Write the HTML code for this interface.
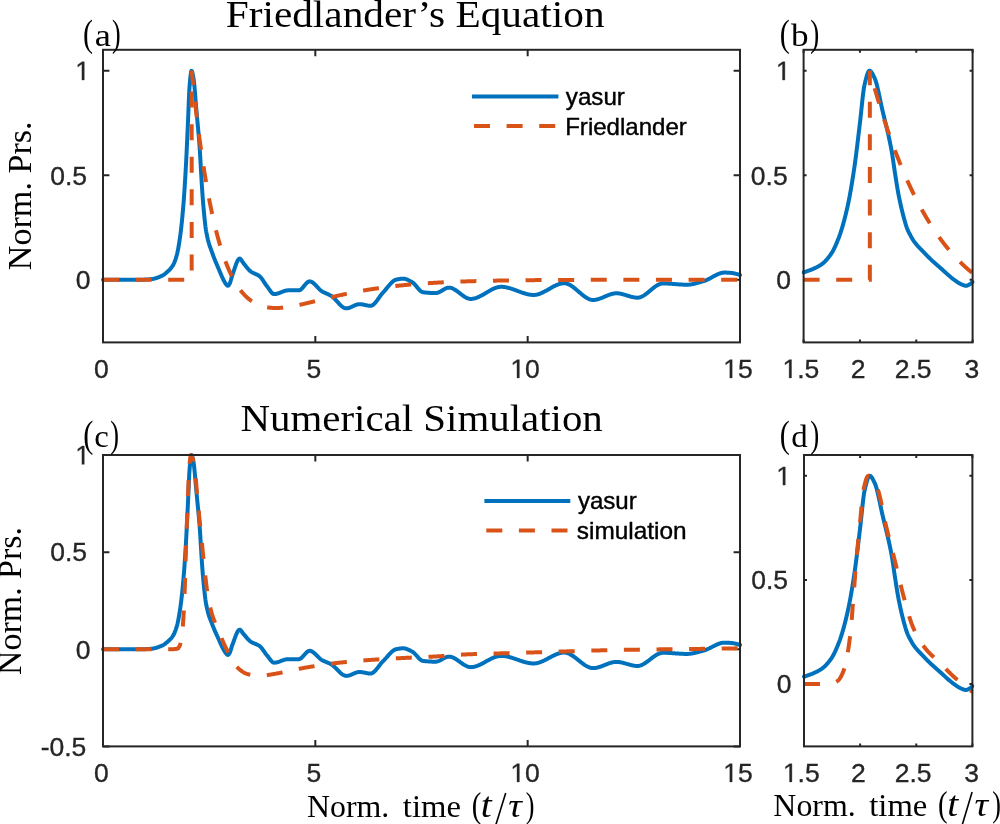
<!DOCTYPE html>
<html><head><meta charset="utf-8"><style>
html,body{margin:0;padding:0;background:#fff;}
body{width:1000px;height:824px;overflow:hidden;}
svg{display:block;will-change:transform;}
.tk{font-family:"Liberation Sans",sans-serif;font-size:26.5px;fill:#262626;stroke:#262626;stroke-width:0.35px;}
.tk1{fill:#262626;stroke:#262626;stroke-width:27px;}
.lg{font-family:"Liberation Sans",sans-serif;font-size:24px;fill:#000;}
.sf{font-family:"Liberation Serif",serif;fill:#000;}
</style></head><body>
<svg width="1000" height="824" viewBox="0 0 1000 824">
<defs><clipPath id="clipa"><rect x="101.00" y="47.80" width="641.00" height="296.60"/></clipPath>
<clipPath id="clipb"><rect x="801.60" y="47.80" width="173.00" height="296.60"/></clipPath>
<clipPath id="clipc"><rect x="101.00" y="453.00" width="641.00" height="295.40"/></clipPath>
<clipPath id="clipd"><rect x="802.00" y="453.00" width="172.40" height="295.40"/></clipPath></defs>
<rect width="1000" height="824" fill="#fff"/>
<path d="M103.00 279.70h6.40M740.00 279.70h-6.40M103.00 175.20h6.40M740.00 175.20h-6.40M103.00 70.70h6.40M740.00 70.70h-6.40M103.00 342.40v-6.40M103.00 49.80v6.40M315.33 342.40v-6.40M315.33 49.80v6.40M527.67 342.40v-6.40M527.67 49.80v6.40M740.00 342.40v-6.40M740.00 49.80v6.40" stroke="#262626" stroke-width="2" fill="none"/>
<g clip-path="url(#clipa)">
<path d="M103.00 279.70 L103.42 279.70 L103.85 279.70 L104.27 279.70 L104.70 279.70 L105.12 279.70 L105.55 279.70 L105.97 279.70 L106.40 279.70 L106.82 279.70 L107.25 279.70 L107.67 279.70 L108.10 279.70 L108.52 279.70 L108.95 279.70 L109.37 279.70 L109.80 279.70 L110.22 279.70 L110.65 279.70 L111.07 279.70 L111.50 279.70 L111.92 279.70 L112.35 279.70 L112.77 279.70 L113.20 279.70 L113.62 279.70 L114.05 279.70 L114.47 279.70 L114.90 279.70 L115.32 279.70 L115.75 279.70 L116.17 279.70 L116.60 279.70 L117.02 279.70 L117.45 279.70 L117.87 279.70 L118.30 279.70 L118.72 279.70 L119.15 279.70 L119.57 279.70 L120.00 279.70 L120.42 279.70 L120.85 279.70 L121.27 279.70 L121.70 279.70 L122.12 279.70 L122.55 279.70 L122.97 279.70 L123.40 279.70 L123.82 279.70 L124.25 279.70 L124.67 279.70 L125.10 279.70 L125.52 279.70 L125.95 279.70 L126.37 279.70 L126.80 279.70 L127.22 279.70 L127.65 279.70 L128.07 279.70 L128.50 279.70 L128.92 279.70 L129.35 279.70 L129.77 279.70 L130.20 279.70 L130.62 279.70 L131.05 279.70 L131.47 279.70 L131.90 279.70 L132.32 279.70 L132.75 279.70 L133.17 279.70 L133.60 279.70 L134.02 279.70 L134.45 279.70 L134.87 279.70 L135.30 279.70 L135.72 279.70 L136.15 279.70 L136.57 279.70 L137.00 279.70 L137.42 279.70 L137.85 279.70 L138.27 279.70 L138.70 279.70 L139.12 279.70 L139.55 279.70 L139.97 279.70 L140.40 279.70 L140.82 279.70 L141.25 279.70 L141.67 279.70 L142.10 279.69 L142.52 279.69 L142.95 279.68 L143.37 279.67 L143.80 279.65 L144.22 279.64 L144.65 279.62 L145.07 279.60 L145.49 279.58 L145.92 279.56 L146.34 279.53 L146.77 279.50 L147.19 279.48 L147.62 279.45 L148.04 279.41 L148.47 279.38 L148.89 279.35 L149.32 279.31 L149.74 279.27 L150.17 279.23 L150.59 279.19 L151.02 279.15 L151.44 279.11 L151.87 279.07 L152.29 279.02 L152.72 278.96 L153.14 278.89 L153.57 278.81 L153.99 278.72 L154.42 278.63 L154.84 278.52 L155.27 278.41 L155.69 278.28 L156.12 278.15 L156.54 278.02 L156.97 277.87 L157.39 277.72 L157.82 277.56 L158.24 277.40 L158.67 277.23 L159.09 277.05 L159.52 276.87 L159.94 276.69 L160.37 276.50 L160.79 276.31 L161.22 276.11 L161.64 275.91 L162.07 275.71 L162.49 275.50 L162.92 275.28 L163.34 275.02 L163.77 274.75 L164.19 274.45 L164.62 274.13 L165.04 273.80 L165.47 273.45 L165.89 273.09 L166.32 272.72 L166.74 272.35 L167.17 271.97 L167.59 271.59 L168.02 271.20 L168.44 270.81 L168.87 270.40 L169.29 269.98 L169.72 269.54 L170.14 269.07 L170.57 268.59 L170.99 268.07 L171.42 267.53 L171.84 266.95 L172.27 266.34 L172.69 265.69 L173.12 264.99 L173.54 264.21 L173.97 263.33 L174.39 262.35 L174.82 261.26 L175.24 260.08 L175.67 258.80 L176.09 257.44 L176.52 255.98 L176.94 254.44 L177.37 252.70 L177.79 250.74 L178.22 248.55 L178.64 246.16 L179.07 243.59 L179.49 240.86 L179.92 237.98 L180.34 234.94 L180.77 231.62 L181.19 228.00 L181.62 224.11 L182.04 219.95 L182.47 215.52 L182.89 210.84 L183.32 205.91 L183.74 200.54 L184.17 194.65 L184.59 188.28 L185.02 181.49 L185.44 174.35 L185.87 166.89 L186.29 158.74 L186.72 149.85 L187.14 140.52 L187.57 131.05 L187.99 121.70 L188.41 111.36 L188.84 100.56 L189.26 91.09 L189.69 84.67 L190.11 79.90 L190.54 75.69 L190.96 72.51 L191.39 70.84 L191.81 70.92 L192.24 72.02 L192.66 73.81 L193.09 76.01 L193.51 78.36 L193.94 81.44 L194.36 85.49 L194.79 90.25 L195.21 95.45 L195.64 100.84 L196.06 106.14 L196.49 111.11 L196.91 115.80 L197.34 120.39 L197.76 124.98 L198.19 129.66 L198.61 134.52 L199.04 139.65 L199.46 145.13 L199.89 151.07 L200.31 158.06 L200.74 165.79 L201.16 173.43 L201.59 180.58 L202.01 187.59 L202.44 193.96 L202.86 199.59 L203.29 204.83 L203.71 209.70 L204.14 214.25 L204.56 218.54 L204.99 222.62 L205.41 226.28 L205.84 229.30 L206.26 231.83 L206.69 234.06 L207.11 236.14 L207.54 238.13 L207.96 239.96 L208.39 241.61 L208.81 243.09 L209.24 244.47 L209.66 245.77 L210.09 247.01 L210.51 248.20 L210.94 249.36 L211.36 250.51 L211.79 251.67 L212.21 252.85 L212.64 254.03 L213.06 255.20 L213.49 256.34 L213.91 257.47 L214.34 258.56 L214.76 259.63 L215.19 260.67 L215.61 261.69 L216.04 262.69 L216.46 263.69 L216.89 264.68 L217.31 265.67 L217.74 266.67 L218.16 267.68 L218.59 268.71 L219.01 269.76 L219.44 270.80 L219.86 271.81 L220.29 272.82 L220.71 273.84 L221.14 274.84 L221.56 275.82 L221.99 276.78 L222.41 277.71 L222.84 278.60 L223.26 279.45 L223.69 280.26 L224.11 281.07 L224.54 281.85 L224.96 282.60 L225.39 283.29 L225.81 283.89 L226.24 284.39 L226.66 284.88 L227.09 285.33 L227.51 285.65 L227.94 285.76 L228.36 285.55 L228.79 285.07 L229.21 284.43 L229.64 283.74 L230.06 282.78 L230.48 281.51 L230.91 280.04 L231.33 278.47 L231.76 276.91 L232.18 275.47 L232.61 274.24 L233.03 273.07 L233.46 271.84 L233.88 270.59 L234.31 269.32 L234.73 268.05 L235.16 266.80 L235.58 265.58 L236.01 264.41 L236.43 263.30 L236.86 262.27 L237.28 261.34 L237.71 260.51 L238.13 259.82 L238.56 259.26 L238.98 258.86 L239.41 258.64 L239.83 258.60 L240.26 258.80 L240.68 259.18 L241.11 259.72 L241.53 260.35 L241.96 261.03 L242.38 261.71 L242.81 262.34 L243.23 262.88 L243.66 263.40 L244.08 263.93 L244.51 264.46 L244.93 265.01 L245.36 265.55 L245.78 266.10 L246.21 266.64 L246.63 267.18 L247.06 267.71 L247.48 268.23 L247.91 268.73 L248.33 269.21 L248.76 269.67 L249.18 270.11 L249.61 270.52 L250.03 270.91 L250.46 271.25 L250.88 271.57 L251.31 271.86 L251.73 272.13 L252.16 272.38 L252.58 272.61 L253.01 272.83 L253.43 273.03 L253.86 273.23 L254.28 273.42 L254.71 273.61 L255.13 273.80 L255.56 273.98 L255.98 274.17 L256.41 274.37 L256.83 274.57 L257.26 274.79 L257.68 275.02 L258.11 275.26 L258.53 275.52 L258.96 275.80 L259.38 276.11 L259.81 276.44 L260.23 276.82 L260.66 277.26 L261.08 277.75 L261.51 278.29 L261.93 278.86 L262.36 279.46 L262.78 280.08 L263.21 280.73 L263.63 281.38 L264.06 282.04 L264.48 282.70 L264.91 283.36 L265.33 284.00 L265.76 284.62 L266.18 285.22 L266.61 285.78 L267.03 286.31 L267.46 286.86 L267.88 287.44 L268.31 288.04 L268.73 288.66 L269.16 289.29 L269.58 289.91 L270.01 290.52 L270.43 291.11 L270.86 291.67 L271.28 292.20 L271.71 292.68 L272.13 293.11 L272.56 293.47 L272.98 293.76 L273.40 293.97 L273.83 294.09 L274.25 294.12 L274.68 294.10 L275.10 294.07 L275.53 294.02 L275.95 293.95 L276.38 293.86 L276.80 293.76 L277.23 293.65 L277.65 293.53 L278.08 293.40 L278.50 293.25 L278.93 293.10 L279.35 292.95 L279.78 292.78 L280.20 292.62 L280.63 292.45 L281.05 292.28 L281.48 292.11 L281.90 291.94 L282.33 291.77 L282.75 291.60 L283.18 291.45 L283.60 291.29 L284.03 291.15 L284.45 291.01 L284.88 290.88 L285.30 290.76 L285.73 290.66 L286.15 290.57 L286.58 290.49 L287.00 290.43 L287.43 290.39 L287.85 290.36 L288.28 290.36 L288.70 290.36 L289.13 290.36 L289.55 290.36 L289.98 290.36 L290.40 290.36 L290.83 290.36 L291.25 290.36 L291.68 290.36 L292.10 290.36 L292.53 290.36 L292.95 290.36 L293.38 290.36 L293.80 290.36 L294.23 290.36 L294.65 290.36 L295.08 290.36 L295.50 290.36 L295.93 290.36 L296.35 290.36 L296.78 290.36 L297.20 290.36 L297.63 290.36 L298.05 290.36 L298.48 290.36 L298.90 290.36 L299.33 290.29 L299.75 290.15 L300.18 289.94 L300.60 289.68 L301.03 289.35 L301.45 288.98 L301.88 288.57 L302.30 288.12 L302.73 287.64 L303.15 287.14 L303.58 286.62 L304.00 286.10 L304.43 285.57 L304.85 285.04 L305.28 284.53 L305.70 284.03 L306.13 283.55 L306.55 283.11 L306.98 282.70 L307.40 282.33 L307.83 282.02 L308.25 281.76 L308.68 281.56 L309.10 281.43 L309.53 281.37 L309.95 281.39 L310.38 281.46 L310.80 281.57 L311.23 281.72 L311.65 281.92 L312.08 282.16 L312.50 282.43 L312.93 282.73 L313.35 283.06 L313.78 283.41 L314.20 283.79 L314.63 284.19 L315.05 284.61 L315.47 285.04 L315.90 285.48 L316.32 285.93 L316.75 286.39 L317.17 286.85 L317.60 287.31 L318.02 287.76 L318.45 288.21 L318.87 288.65 L319.30 289.08 L319.72 289.49 L320.15 289.89 L320.57 290.26 L321.00 290.61 L321.42 290.94 L321.85 291.23 L322.27 291.49 L322.70 291.74 L323.12 291.97 L323.55 292.19 L323.97 292.41 L324.40 292.61 L324.82 292.81 L325.25 293.01 L325.67 293.20 L326.10 293.38 L326.52 293.57 L326.95 293.76 L327.37 293.94 L327.80 294.13 L328.22 294.33 L328.65 294.52 L329.07 294.73 L329.50 294.94 L329.92 295.16 L330.35 295.39 L330.77 295.63 L331.20 295.89 L331.62 296.17 L332.05 296.47 L332.47 296.81 L332.90 297.16 L333.32 297.54 L333.75 297.93 L334.17 298.34 L334.60 298.77 L335.02 299.21 L335.45 299.66 L335.87 300.11 L336.30 300.58 L336.72 301.05 L337.15 301.52 L337.57 301.99 L338.00 302.46 L338.42 302.92 L338.85 303.38 L339.27 303.83 L339.70 304.28 L340.12 304.71 L340.55 305.12 L340.97 305.52 L341.40 305.90 L341.82 306.27 L342.25 306.61 L342.67 306.92 L343.10 307.21 L343.52 307.47 L343.95 307.70 L344.37 307.90 L344.80 308.06 L345.22 308.19 L345.65 308.28 L346.07 308.32 L346.50 308.33 L346.92 308.31 L347.35 308.26 L347.77 308.19 L348.20 308.11 L348.62 308.00 L349.05 307.87 L349.47 307.73 L349.90 307.58 L350.32 307.42 L350.75 307.24 L351.17 307.05 L351.60 306.86 L352.02 306.67 L352.45 306.47 L352.87 306.26 L353.30 306.06 L353.72 305.86 L354.15 305.66 L354.57 305.47 L355.00 305.29 L355.42 305.11 L355.85 304.94 L356.27 304.78 L356.70 304.64 L357.12 304.51 L357.55 304.40 L357.97 304.31 L358.39 304.24 L358.82 304.19 L359.24 304.16 L359.67 304.15 L360.09 304.17 L360.52 304.19 L360.94 304.23 L361.37 304.28 L361.79 304.34 L362.22 304.41 L362.64 304.48 L363.07 304.56 L363.49 304.65 L363.92 304.74 L364.34 304.84 L364.77 304.93 L365.19 305.03 L365.62 305.12 L366.04 305.22 L366.47 305.31 L366.89 305.40 L367.32 305.48 L367.74 305.56 L368.17 305.63 L368.59 305.69 L369.02 305.74 L369.44 305.78 L369.87 305.81 L370.29 305.82 L370.72 305.82 L371.14 305.76 L371.57 305.65 L371.99 305.49 L372.42 305.27 L372.84 305.00 L373.27 304.69 L373.69 304.34 L374.12 303.95 L374.54 303.53 L374.97 303.07 L375.39 302.58 L375.82 302.07 L376.24 301.54 L376.67 300.99 L377.09 300.42 L377.52 299.83 L377.94 299.24 L378.37 298.64 L378.79 298.04 L379.22 297.43 L379.64 296.83 L380.07 296.24 L380.49 295.65 L380.92 295.07 L381.34 294.51 L381.77 293.97 L382.19 293.45 L382.62 292.96 L383.04 292.49 L383.47 292.05 L383.89 291.59 L384.32 291.13 L384.74 290.64 L385.17 290.15 L385.59 289.65 L386.02 289.13 L386.44 288.62 L386.87 288.09 L387.29 287.57 L387.72 287.05 L388.14 286.52 L388.57 286.01 L388.99 285.49 L389.42 284.99 L389.84 284.49 L390.27 284.01 L390.69 283.55 L391.12 283.09 L391.54 282.66 L391.97 282.25 L392.39 281.85 L392.82 281.49 L393.24 281.15 L393.67 280.83 L394.09 280.55 L394.52 280.30 L394.94 280.08 L395.37 279.90 L395.79 279.76 L396.22 279.65 L396.64 279.56 L397.07 279.46 L397.49 279.37 L397.92 279.28 L398.34 279.19 L398.77 279.11 L399.19 279.04 L399.62 278.97 L400.04 278.90 L400.46 278.84 L400.89 278.79 L401.31 278.75 L401.74 278.71 L402.16 278.69 L402.59 278.67 L403.01 278.66 L403.44 278.66 L403.86 278.68 L404.29 278.73 L404.71 278.80 L405.14 278.89 L405.56 279.01 L405.99 279.14 L406.41 279.28 L406.84 279.45 L407.26 279.62 L407.69 279.81 L408.11 280.01 L408.54 280.22 L408.96 280.44 L409.39 280.67 L409.81 280.90 L410.24 281.14 L410.66 281.37 L411.09 281.61 L411.51 281.85 L411.94 282.09 L412.36 282.33 L412.79 282.61 L413.21 282.94 L413.64 283.30 L414.06 283.71 L414.49 284.14 L414.91 284.60 L415.34 285.09 L415.76 285.58 L416.19 286.10 L416.61 286.62 L417.04 287.14 L417.46 287.66 L417.89 288.18 L418.31 288.69 L418.74 289.18 L419.16 289.65 L419.59 290.09 L420.01 290.51 L420.44 290.90 L420.86 291.24 L421.29 291.55 L421.71 291.80 L422.14 292.01 L422.56 292.15 L422.99 292.24 L423.41 292.29 L423.84 292.35 L424.26 292.40 L424.69 292.44 L425.11 292.49 L425.54 292.54 L425.96 292.58 L426.39 292.62 L426.81 292.66 L427.24 292.70 L427.66 292.74 L428.09 292.77 L428.51 292.80 L428.94 292.84 L429.36 292.86 L429.79 292.89 L430.21 292.92 L430.64 292.94 L431.06 292.96 L431.49 292.98 L431.91 293.00 L432.34 293.02 L432.76 293.03 L433.19 293.04 L433.61 293.06 L434.04 293.06 L434.46 293.07 L434.89 293.07 L435.31 293.08 L435.74 293.07 L436.16 293.04 L436.59 292.98 L437.01 292.89 L437.44 292.78 L437.86 292.64 L438.29 292.48 L438.71 292.30 L439.14 292.11 L439.56 291.90 L439.99 291.68 L440.41 291.44 L440.84 291.20 L441.26 290.95 L441.69 290.70 L442.11 290.44 L442.54 290.18 L442.96 289.93 L443.38 289.68 L443.81 289.43 L444.23 289.19 L444.66 288.96 L445.08 288.74 L445.51 288.54 L445.93 288.35 L446.36 288.18 L446.78 288.03 L447.21 287.90 L447.63 287.79 L448.06 287.71 L448.48 287.66 L448.91 287.64 L449.33 287.65 L449.76 287.68 L450.18 287.74 L450.61 287.82 L451.03 287.93 L451.46 288.05 L451.88 288.19 L452.31 288.35 L452.73 288.53 L453.16 288.73 L453.58 288.94 L454.01 289.17 L454.43 289.41 L454.86 289.67 L455.28 289.93 L455.71 290.21 L456.13 290.50 L456.56 290.79 L456.98 291.10 L457.41 291.41 L457.83 291.72 L458.26 292.04 L458.68 292.37 L459.11 292.69 L459.53 293.02 L459.96 293.35 L460.38 293.68 L460.81 294.01 L461.23 294.34 L461.66 294.66 L462.08 294.98 L462.51 295.30 L462.93 295.60 L463.36 295.90 L463.78 296.20 L464.21 296.48 L464.63 296.75 L465.06 297.01 L465.48 297.26 L465.91 297.50 L466.33 297.72 L466.76 297.92 L467.18 298.11 L467.61 298.29 L468.03 298.44 L468.46 298.58 L468.88 298.69 L469.31 298.78 L469.73 298.85 L470.16 298.90 L470.58 298.93 L471.01 298.93 L471.43 298.91 L471.86 298.88 L472.28 298.84 L472.71 298.79 L473.13 298.72 L473.56 298.64 L473.98 298.55 L474.41 298.45 L474.83 298.33 L475.26 298.21 L475.68 298.08 L476.11 297.94 L476.53 297.78 L476.96 297.62 L477.38 297.45 L477.81 297.28 L478.23 297.09 L478.66 296.90 L479.08 296.70 L479.51 296.50 L479.93 296.29 L480.36 296.07 L480.78 295.85 L481.21 295.62 L481.63 295.39 L482.06 295.15 L482.48 294.91 L482.91 294.67 L483.33 294.43 L483.76 294.18 L484.18 293.93 L484.61 293.68 L485.03 293.43 L485.45 293.17 L485.88 292.92 L486.30 292.66 L486.73 292.41 L487.15 292.16 L487.58 291.90 L488.00 291.65 L488.43 291.41 L488.85 291.16 L489.28 290.92 L489.70 290.68 L490.13 290.44 L490.55 290.21 L490.98 289.98 L491.40 289.75 L491.83 289.53 L492.25 289.32 L492.68 289.11 L493.10 288.91 L493.53 288.72 L493.95 288.53 L494.38 288.35 L494.80 288.18 L495.23 288.01 L495.65 287.86 L496.08 287.71 L496.50 287.57 L496.93 287.45 L497.35 287.33 L497.78 287.22 L498.20 287.13 L498.63 287.05 L499.05 286.97 L499.48 286.91 L499.90 286.87 L500.33 286.83 L500.75 286.81 L501.18 286.81 L501.60 286.81 L502.03 286.82 L502.45 286.84 L502.88 286.87 L503.30 286.91 L503.73 286.95 L504.15 287.00 L504.58 287.06 L505.00 287.12 L505.43 287.19 L505.85 287.27 L506.28 287.35 L506.70 287.44 L507.13 287.53 L507.55 287.63 L507.98 287.73 L508.40 287.84 L508.83 287.95 L509.25 288.07 L509.68 288.19 L510.10 288.32 L510.53 288.45 L510.95 288.58 L511.38 288.72 L511.80 288.86 L512.23 289.00 L512.65 289.15 L513.08 289.29 L513.50 289.44 L513.93 289.60 L514.35 289.75 L514.78 289.91 L515.20 290.06 L515.63 290.22 L516.05 290.38 L516.48 290.54 L516.90 290.70 L517.33 290.86 L517.75 291.02 L518.18 291.18 L518.60 291.34 L519.03 291.50 L519.45 291.65 L519.88 291.81 L520.30 291.97 L520.73 292.12 L521.15 292.27 L521.58 292.42 L522.00 292.57 L522.43 292.72 L522.85 292.86 L523.28 293.00 L523.70 293.14 L524.13 293.27 L524.55 293.40 L524.98 293.53 L525.40 293.65 L525.83 293.77 L526.25 293.89 L526.68 294.00 L527.10 294.10 L527.53 294.20 L527.95 294.30 L528.37 294.39 L528.80 294.47 L529.22 294.55 L529.65 294.62 L530.07 294.69 L530.50 294.75 L530.92 294.80 L531.35 294.84 L531.77 294.88 L532.20 294.91 L532.62 294.93 L533.05 294.95 L533.47 294.96 L533.90 294.95 L534.32 294.94 L534.75 294.91 L535.17 294.87 L535.60 294.82 L536.02 294.75 L536.45 294.67 L536.87 294.59 L537.30 294.49 L537.72 294.38 L538.15 294.26 L538.57 294.13 L539.00 294.00 L539.42 293.85 L539.85 293.69 L540.27 293.53 L540.70 293.36 L541.12 293.19 L541.55 293.00 L541.97 292.81 L542.40 292.61 L542.82 292.41 L543.25 292.20 L543.67 291.99 L544.10 291.77 L544.52 291.55 L544.95 291.32 L545.37 291.09 L545.80 290.86 L546.22 290.63 L546.65 290.39 L547.07 290.15 L547.50 289.91 L547.92 289.67 L548.35 289.42 L548.77 289.18 L549.20 288.93 L549.62 288.69 L550.05 288.45 L550.47 288.21 L550.90 287.96 L551.32 287.73 L551.75 287.49 L552.17 287.25 L552.60 287.02 L553.02 286.80 L553.45 286.57 L553.87 286.35 L554.30 286.13 L554.72 285.92 L555.15 285.72 L555.57 285.52 L556.00 285.32 L556.42 285.13 L556.85 284.95 L557.27 284.78 L557.70 284.61 L558.12 284.45 L558.55 284.30 L558.97 284.16 L559.40 284.03 L559.82 283.90 L560.25 283.79 L560.67 283.68 L561.10 283.59 L561.52 283.50 L561.95 283.43 L562.37 283.37 L562.80 283.32 L563.22 283.29 L563.65 283.26 L564.07 283.25 L564.50 283.26 L564.92 283.28 L565.35 283.33 L565.77 283.40 L566.20 283.48 L566.62 283.59 L567.05 283.71 L567.47 283.85 L567.90 284.01 L568.32 284.18 L568.75 284.37 L569.17 284.57 L569.60 284.79 L570.02 285.02 L570.44 285.27 L570.87 285.52 L571.29 285.79 L571.72 286.07 L572.14 286.36 L572.57 286.66 L572.99 286.97 L573.42 287.29 L573.84 287.61 L574.27 287.94 L574.69 288.28 L575.12 288.63 L575.54 288.98 L575.97 289.33 L576.39 289.69 L576.82 290.05 L577.24 290.42 L577.67 290.78 L578.09 291.15 L578.52 291.52 L578.94 291.89 L579.37 292.26 L579.79 292.62 L580.22 292.99 L580.64 293.35 L581.07 293.71 L581.49 294.07 L581.92 294.42 L582.34 294.77 L582.77 295.11 L583.19 295.45 L583.62 295.78 L584.04 296.10 L584.47 296.41 L584.89 296.71 L585.32 297.01 L585.74 297.29 L586.17 297.57 L586.59 297.83 L587.02 298.08 L587.44 298.32 L587.87 298.54 L588.29 298.75 L588.72 298.95 L589.14 299.13 L589.57 299.30 L589.99 299.45 L590.42 299.58 L590.84 299.69 L591.27 299.79 L591.69 299.86 L592.12 299.92 L592.54 299.96 L592.97 299.97 L593.39 299.97 L593.82 299.95 L594.24 299.92 L594.67 299.88 L595.09 299.83 L595.52 299.77 L595.94 299.69 L596.37 299.61 L596.79 299.52 L597.22 299.41 L597.64 299.30 L598.07 299.18 L598.49 299.06 L598.92 298.92 L599.34 298.78 L599.77 298.64 L600.19 298.49 L600.62 298.33 L601.04 298.17 L601.47 298.00 L601.89 297.83 L602.32 297.66 L602.74 297.48 L603.17 297.30 L603.59 297.12 L604.02 296.94 L604.44 296.76 L604.87 296.58 L605.29 296.39 L605.72 296.21 L606.14 296.03 L606.57 295.85 L606.99 295.68 L607.42 295.50 L607.84 295.33 L608.27 295.16 L608.69 295.00 L609.12 294.84 L609.54 294.68 L609.97 294.54 L610.39 294.39 L610.82 294.26 L611.24 294.13 L611.67 294.00 L612.09 293.89 L612.52 293.78 L612.94 293.69 L613.36 293.60 L613.79 293.52 L614.21 293.45 L614.64 293.40 L615.06 293.35 L615.49 293.32 L615.91 293.29 L616.34 293.29 L616.76 293.29 L617.19 293.30 L617.61 293.33 L618.04 293.36 L618.46 293.40 L618.89 293.45 L619.31 293.51 L619.74 293.58 L620.16 293.65 L620.59 293.73 L621.01 293.82 L621.44 293.92 L621.86 294.02 L622.29 294.12 L622.71 294.23 L623.14 294.34 L623.56 294.46 L623.99 294.58 L624.41 294.71 L624.84 294.83 L625.26 294.96 L625.69 295.09 L626.11 295.22 L626.54 295.36 L626.96 295.49 L627.39 295.62 L627.81 295.75 L628.24 295.89 L628.66 296.02 L629.09 296.15 L629.51 296.27 L629.94 296.40 L630.36 296.52 L630.79 296.63 L631.21 296.75 L631.64 296.85 L632.06 296.96 L632.49 297.06 L632.91 297.15 L633.34 297.24 L633.76 297.32 L634.19 297.39 L634.61 297.46 L635.04 297.51 L635.46 297.56 L635.89 297.61 L636.31 297.64 L636.74 297.66 L637.16 297.67 L637.59 297.67 L638.01 297.65 L638.44 297.61 L638.86 297.55 L639.29 297.46 L639.71 297.36 L640.14 297.23 L640.56 297.09 L640.99 296.93 L641.41 296.75 L641.84 296.56 L642.26 296.35 L642.69 296.12 L643.11 295.88 L643.54 295.63 L643.96 295.37 L644.39 295.09 L644.81 294.80 L645.24 294.51 L645.66 294.20 L646.09 293.89 L646.51 293.57 L646.94 293.24 L647.36 292.90 L647.79 292.56 L648.21 292.22 L648.64 291.87 L649.06 291.52 L649.49 291.17 L649.91 290.81 L650.34 290.46 L650.76 290.10 L651.19 289.75 L651.61 289.40 L652.04 289.05 L652.46 288.70 L652.89 288.36 L653.31 288.02 L653.74 287.69 L654.16 287.37 L654.59 287.05 L655.01 286.74 L655.43 286.44 L655.86 286.15 L656.28 285.87 L656.71 285.60 L657.13 285.35 L657.56 285.10 L657.98 284.87 L658.41 284.66 L658.83 284.46 L659.26 284.27 L659.68 284.11 L660.11 283.96 L660.53 283.82 L660.96 283.71 L661.38 283.62 L661.81 283.55 L662.23 283.50 L662.66 283.47 L663.08 283.46 L663.51 283.46 L663.93 283.47 L664.36 283.47 L664.78 283.48 L665.21 283.49 L665.63 283.51 L666.06 283.52 L666.48 283.54 L666.91 283.55 L667.33 283.57 L667.76 283.59 L668.18 283.61 L668.61 283.64 L669.03 283.66 L669.46 283.69 L669.88 283.72 L670.31 283.74 L670.73 283.77 L671.16 283.80 L671.58 283.83 L672.01 283.86 L672.43 283.89 L672.86 283.93 L673.28 283.96 L673.71 283.99 L674.13 284.03 L674.56 284.06 L674.98 284.09 L675.41 284.13 L675.83 284.16 L676.26 284.19 L676.68 284.22 L677.11 284.26 L677.53 284.29 L677.96 284.32 L678.38 284.35 L678.81 284.38 L679.23 284.41 L679.66 284.44 L680.08 284.47 L680.51 284.49 L680.93 284.52 L681.36 284.54 L681.78 284.57 L682.21 284.59 L682.63 284.61 L683.06 284.63 L683.48 284.65 L683.91 284.66 L684.33 284.68 L684.76 284.69 L685.18 284.70 L685.61 284.71 L686.03 284.71 L686.46 284.71 L686.88 284.72 L687.31 284.71 L687.73 284.70 L688.16 284.68 L688.58 284.66 L689.01 284.62 L689.43 284.59 L689.86 284.54 L690.28 284.49 L690.71 284.43 L691.13 284.37 L691.56 284.30 L691.98 284.22 L692.41 284.14 L692.83 284.06 L693.26 283.97 L693.68 283.88 L694.11 283.78 L694.53 283.68 L694.96 283.58 L695.38 283.47 L695.81 283.36 L696.23 283.25 L696.66 283.13 L697.08 283.01 L697.51 282.89 L697.93 282.77 L698.35 282.65 L698.78 282.53 L699.20 282.40 L699.63 282.28 L700.05 282.15 L700.48 282.03 L700.90 281.90 L701.33 281.78 L701.75 281.66 L702.18 281.53 L702.60 281.41 L703.03 281.29 L703.45 281.17 L703.88 281.05 L704.30 280.91 L704.73 280.77 L705.15 280.61 L705.58 280.45 L706.00 280.28 L706.43 280.10 L706.85 279.91 L707.28 279.71 L707.70 279.51 L708.13 279.30 L708.55 279.09 L708.98 278.87 L709.40 278.65 L709.83 278.42 L710.25 278.20 L710.68 277.96 L711.10 277.73 L711.53 277.50 L711.95 277.26 L712.38 277.03 L712.80 276.79 L713.23 276.55 L713.65 276.32 L714.08 276.09 L714.50 275.86 L714.93 275.64 L715.35 275.41 L715.78 275.20 L716.20 274.98 L716.63 274.77 L717.05 274.57 L717.48 274.38 L717.90 274.19 L718.33 274.01 L718.75 273.84 L719.18 273.67 L719.60 273.52 L720.03 273.37 L720.45 273.24 L720.88 273.12 L721.30 273.01 L721.73 272.91 L722.15 272.82 L722.58 272.75 L723.00 272.69 L723.43 272.64 L723.85 272.61 L724.28 272.60 L724.70 272.59 L725.13 272.60 L725.55 272.60 L725.98 272.61 L726.40 272.62 L726.83 272.63 L727.25 272.64 L727.68 272.66 L728.10 272.68 L728.53 272.70 L728.95 272.73 L729.38 272.76 L729.80 272.79 L730.23 272.83 L730.65 272.87 L731.08 272.92 L731.50 272.97 L731.93 273.02 L732.35 273.08 L732.78 273.14 L733.20 273.21 L733.63 273.29 L734.05 273.37 L734.48 273.45 L734.90 273.54 L735.33 273.63 L735.75 273.74 L736.18 273.84 L736.60 273.96 L737.03 274.08 L737.45 274.20 L737.88 274.33 L738.30 274.47 L738.73 274.62 L739.15 274.77 L739.58 274.93 L740.00 275.10" fill="none" stroke="#0072BD" stroke-width="4.0" stroke-linejoin="round" stroke-linecap="round"/>
<path d="M103.00 279.70 L104.81 279.70 L106.62 279.70 L108.43 279.70 L110.24 279.70 L112.05 279.70 L113.86 279.70 L115.67 279.70 L117.48 279.70 L119.29 279.70 L121.10 279.70 L122.91 279.70 L124.72 279.70 L126.52 279.70 L128.33 279.70 L130.14 279.70 L131.95 279.70 L133.76 279.70 L135.57 279.70 L137.38 279.70 L139.19 279.70 L141.00 279.70 L142.81 279.70 L144.62 279.70 L146.43 279.70 L148.24 279.70 L150.05 279.70 L151.86 279.70 L153.67 279.70 L155.48 279.70 L157.29 279.70 L159.10 279.70 L160.91 279.70 L162.72 279.70 L164.53 279.70 L166.34 279.70 L168.15 279.70 L169.96 279.70 L171.76 279.70 L173.57 279.70 L175.38 279.70 L177.19 279.70 L179.00 279.70 L180.81 279.70 L182.62 279.70 L184.43 279.70 L186.24 279.70 L188.05 279.70 L189.86 279.70 L191.67 279.70 L191.67 70.70" fill="none" stroke="#D95319" stroke-width="4.0" stroke-dasharray="16 16.6" stroke-linejoin="miter"/><path d="M191.67 70.70 L192.04 74.31 L192.40 77.88 L192.77 81.40 L193.13 84.87 L193.50 88.30 L193.87 91.69 L194.23 95.03 L194.60 98.32 L194.96 101.58 L195.33 104.79 L195.69 107.95 L196.06 111.08 L196.43 114.16 L196.79 117.21 L197.16 120.21 L197.52 123.18 L197.89 126.10 L198.25 128.98 L198.62 131.83 L198.99 134.64 L199.35 137.41 L199.72 140.15 L200.08 142.84 L200.45 145.51 L200.82 148.13 L201.18 150.72 L201.55 153.28 L201.91 155.80 L202.28 158.28 L202.64 160.74 L203.01 163.15 L203.38 165.54 L203.74 167.89 L204.11 170.22 L204.47 172.51 L204.84 174.76 L205.20 176.99 L205.57 179.19 L205.94 181.35 L206.30 183.49 L206.67 185.59 L207.03 187.67 L207.40 189.72 L207.77 191.74 L208.13 193.73 L208.50 195.69 L208.86 197.63 L209.23 199.54 L209.59 201.42 L209.96 203.28 L210.33 205.10 L210.69 206.91 L211.06 208.68 L211.42 210.44 L211.79 212.16 L212.16 213.87 L212.52 215.54 L212.89 217.20 L213.25 218.83 L213.62 220.43 L213.98 222.02 L214.35 223.58 L214.72 225.11 L215.08 226.63 L215.45 228.12 L215.81 229.59 L216.18 231.04 L216.54 232.47 L216.91 233.88 L217.28 235.26 L217.64 236.63 L218.01 237.97 L218.37 239.30 L218.74 240.60 L219.11 241.89 L219.47 243.15 L219.84 244.40 L220.20 245.63 L220.57 246.84 L220.93 248.03 L221.30 249.20 L221.67 250.36 L222.03 251.50 L222.40 252.62 L222.76 253.72 L223.13 254.80 L223.49 255.87 L223.86 256.93 L224.23 257.96 L224.59 258.98 L224.96 259.98 L225.32 260.97 L225.69 261.94 L226.06 262.90 L226.42 263.84 L226.79 264.77 L227.15 265.68 L227.52 266.57 L227.88 267.46 L228.25 268.32 L228.62 269.18 L228.98 270.02 L229.35 270.84 L229.71 271.66 L230.08 272.46 L230.44 273.24 L230.81 274.01 L231.18 274.77 L231.54 275.52 L231.91 276.26 L232.27 276.98 L232.64 277.69 L233.01 278.39 L233.37 279.07 L233.74 279.75 L234.10 280.41 L234.47 281.06 L234.83 281.70 L235.20 282.33 L235.57 282.94 L235.93 283.55 L236.30 284.15 L236.66 284.73 L237.03 285.31 L237.40 285.87 L237.76 286.42 L238.13 286.97 L238.49 287.50 L238.86 288.03 L239.22 288.54 L239.59 289.05 L239.96 289.54 L240.32 290.03 L240.69 290.51 L241.05 290.97 L241.42 291.43 L241.78 291.88 L242.15 292.33 L242.52 292.76 L242.88 293.18 L243.25 293.60 L243.61 294.01 L243.98 294.41 L244.35 294.80 L244.71 295.18 L245.08 295.56 L245.44 295.93 L245.81 296.29 L246.17 296.64 L246.54 296.99 L246.91 297.33 L247.27 297.66 L247.64 297.99 L248.00 298.30 L248.37 298.61 L248.73 298.92 L249.10 299.22 L249.47 299.51 L249.83 299.79 L250.20 300.07 L250.56 300.34 L250.93 300.61 L251.30 300.87 L251.66 301.12 L252.03 301.37 L252.39 301.61 L252.76 301.84 L253.12 302.07 L253.49 302.30 L253.86 302.51 L254.22 302.73 L254.59 302.94 L254.95 303.14 L255.32 303.34 L255.68 303.53 L256.05 303.71 L256.42 303.90 L256.78 304.07 L257.15 304.24 L257.51 304.41 L257.88 304.57 L258.25 304.73 L258.61 304.89 L258.98 305.03 L259.34 305.18 L259.71 305.32 L260.07 305.45 L260.44 305.58 L260.81 305.71 L261.17 305.83 L261.54 305.95 L261.90 306.07 L262.27 306.18 L262.64 306.28 L263.00 306.39 L263.37 306.49 L263.73 306.58 L264.10 306.67 L264.46 306.76 L264.83 306.85 L265.20 306.93 L265.56 307.01 L265.93 307.08 L266.29 307.15 L266.66 307.22 L267.02 307.28 L267.39 307.35 L267.76 307.40 L268.12 307.46 L268.49 307.51 L268.85 307.56 L269.22 307.61 L269.59 307.65 L269.95 307.69 L270.32 307.73 L270.68 307.76 L271.05 307.79 L271.41 307.82 L271.78 307.85 L272.15 307.87 L272.51 307.90 L272.88 307.92 L273.24 307.93 L273.61 307.95 L273.97 307.96 L274.34 307.97 L274.71 307.98 L275.07 307.98 L275.44 307.98 L275.80 307.99 L276.17 307.98 L276.54 307.98 L276.90 307.97 L277.27 307.97 L277.63 307.96 L278.00 307.95 L278.36 307.93 L278.73 307.92 L279.10 307.90 L279.46 307.88 L279.83 307.86 L280.19 307.84 L280.56 307.81 L280.92 307.79 L281.29 307.76 L281.66 307.73 L282.02 307.70 L282.39 307.67 L282.75 307.63 L283.12 307.60 L283.49 307.56 L283.85 307.52 L284.22 307.48 L284.58 307.44 L284.95 307.40 L285.31 307.36 L285.68 307.31 L286.05 307.26 L286.41 307.22 L286.78 307.17 L287.14 307.12 L287.51 307.07 L287.87 307.01 L288.24 306.96 L288.61 306.90 L288.97 306.85 L289.34 306.79 L289.70 306.73 L290.07 306.67 L290.44 306.61 L290.80 306.55 L291.17 306.49 L291.53 306.43 L291.90 306.36 L292.26 306.30 L292.63 306.23 L293.00 306.17 L293.36 306.10 L293.73 306.03 L294.09 305.96 L294.46 305.89 L294.83 305.82 L295.19 305.75 L295.56 305.68 L295.92 305.61 L296.29 305.53 L296.65 305.46 L297.02 305.38 L297.39 305.31 L297.75 305.23 L298.12 305.16 L298.48 305.08 L298.85 305.00 L299.21 304.92 L299.58 304.84 L299.95 304.76 L300.31 304.68 L300.68 304.60 L301.04 304.52 L301.41 304.44 L301.78 304.36 L302.14 304.28 L302.51 304.19 L302.87 304.11 L303.24 304.03 L303.60 303.94 L303.97 303.86 L304.34 303.78 L304.70 303.69 L305.07 303.61 L305.43 303.52 L305.80 303.43 L306.16 303.35 L306.53 303.26 L306.90 303.17 L307.26 303.09 L307.63 303.00 L307.99 302.91 L308.36 302.82 L308.73 302.74 L309.09 302.65 L309.46 302.56 L309.82 302.47 L310.19 302.38 L310.55 302.29 L310.92 302.20 L311.29 302.12 L311.65 302.03 L312.02 301.94 L312.38 301.85 L312.75 301.76 L313.11 301.67 L313.48 301.58 L313.85 301.49 L314.21 301.40 L314.58 301.31 L314.94 301.22 L315.31 301.13 L315.68 301.04 L316.04 300.95 L316.41 300.85 L316.77 300.76 L317.14 300.67 L317.50 300.58 L317.87 300.49 L318.24 300.40 L318.60 300.31 L318.97 300.22 L319.33 300.13 L319.70 300.04 L320.07 299.95 L320.43 299.86 L320.80 299.77 L321.16 299.68 L321.53 299.59 L321.89 299.50 L322.26 299.41 L322.63 299.32 L322.99 299.23 L323.36 299.14 L323.72 299.05 L324.09 298.96 L324.45 298.87 L324.82 298.78 L325.19 298.69 L325.55 298.60 L325.92 298.51 L326.28 298.42 L326.65 298.33 L327.02 298.25 L327.38 298.16 L327.75 298.07 L328.11 297.98 L328.48 297.89 L328.84 297.80 L329.21 297.72 L329.58 297.63 L329.94 297.54 L330.31 297.45 L330.67 297.37 L331.04 297.28 L331.40 297.19 L331.77 297.11 L332.14 297.02 L332.50 296.93 L332.87 296.85 L333.23 296.76 L333.60 296.68 L333.97 296.59 L334.33 296.51 L334.70 296.42 L335.06 296.34 L335.43 296.25 L335.79 296.17 L336.16 296.08 L336.53 296.00 L336.89 295.91 L337.26 295.83 L337.62 295.75 L337.99 295.67 L338.35 295.58 L338.72 295.50 L339.09 295.42 L339.45 295.34 L339.82 295.25 L340.18 295.17 L340.55 295.09 L340.92 295.01 L341.28 294.93 L341.65 294.85 L342.01 294.77 L342.38 294.69 L342.74 294.61 L343.11 294.53 L343.48 294.45 L343.84 294.37 L344.21 294.29 L344.57 294.21 L344.94 294.13 L345.31 294.06 L345.67 293.98 L346.04 293.90 L346.40 293.82 L346.77 293.75 L347.13 293.67 L347.50 293.59 L347.87 293.52 L348.23 293.44 L348.60 293.37 L348.96 293.29 L349.33 293.22 L349.69 293.14 L350.06 293.07 L350.43 292.99 L350.79 292.92 L351.16 292.85 L351.52 292.77 L351.89 292.70 L352.26 292.63 L352.62 292.55 L352.99 292.48 L353.35 292.41 L353.72 292.34 L354.08 292.27 L354.45 292.20 L354.82 292.13 L355.18 292.06 L355.55 291.99 L355.91 291.92 L356.28 291.85 L356.64 291.78 L357.01 291.71 L357.38 291.64 L357.74 291.57 L358.11 291.50 L358.47 291.43 L358.84 291.37 L359.21 291.30 L359.57 291.23 L359.94 291.17 L360.30 291.10 L360.67 291.03 L361.03 290.97 L361.40 290.90 L361.77 290.84 L362.13 290.77 L362.50 290.71 L362.86 290.64 L363.23 290.58 L363.59 290.52 L363.96 290.45 L364.33 290.39 L364.69 290.33 L365.06 290.26 L365.42 290.20 L365.79 290.14 L366.16 290.08 L366.52 290.02 L366.89 289.95 L367.25 289.89 L367.62 289.83 L367.98 289.77 L368.35 289.71 L368.72 289.65 L369.08 289.59 L369.45 289.53 L369.81 289.47 L370.18 289.42 L370.55 289.36 L370.91 289.30 L371.28 289.24 L371.64 289.18 L372.01 289.13 L372.37 289.07 L372.74 289.01 L373.11 288.96 L373.47 288.90 L373.84 288.85 L374.20 288.79 L374.57 288.73 L374.93 288.68 L375.30 288.62 L375.67 288.57 L376.03 288.52 L376.40 288.46 L376.76 288.41 L377.13 288.36 L377.50 288.30 L377.86 288.25 L378.23 288.20 L378.59 288.14 L378.96 288.09 L379.32 288.04 L379.69 287.99 L380.06 287.94 L380.42 287.89 L380.79 287.84 L381.15 287.79 L381.52 287.74 L381.88 287.69 L382.25 287.64 L382.62 287.59 L382.98 287.54 L383.35 287.49 L383.71 287.44 L384.08 287.39 L384.45 287.34 L384.81 287.30 L385.18 287.25 L385.54 287.20 L385.91 287.15 L386.27 287.11 L386.64 287.06 L387.01 287.01 L387.37 286.97 L387.74 286.92 L388.10 286.88 L388.47 286.83 L388.83 286.79 L389.20 286.74 L389.57 286.70 L389.93 286.65 L390.30 286.61 L390.66 286.56 L391.03 286.52 L391.40 286.48 L391.76 286.43 L392.13 286.39 L392.49 286.35 L392.86 286.31 L393.22 286.26 L393.59 286.22 L393.96 286.18 L394.32 286.14 L394.69 286.10 L395.05 286.06 L395.42 286.02 L395.79 285.98 L396.15 285.94 L396.52 285.90 L396.88 285.86 L397.25 285.82 L397.61 285.78 L397.98 285.74 L398.35 285.70 L398.71 285.66 L399.08 285.62 L399.44 285.58 L399.81 285.54 L400.17 285.51 L400.54 285.47 L400.91 285.43 L401.27 285.39 L401.64 285.36 L402.00 285.32 L402.37 285.28 L402.74 285.25 L403.10 285.21 L403.47 285.18 L403.83 285.14 L404.20 285.10 L404.56 285.07 L404.93 285.03 L405.30 285.00 L405.66 284.96 L406.03 284.93 L406.39 284.90 L406.76 284.86 L407.12 284.83 L407.49 284.79 L407.86 284.76 L408.22 284.73 L408.59 284.69 L408.95 284.66 L409.32 284.63 L409.69 284.60 L410.05 284.56 L410.42 284.53 L410.78 284.50 L411.15 284.47 L411.51 284.44 L411.88 284.40 L412.25 284.37 L412.61 284.34 L412.98 284.31 L413.34 284.28 L413.71 284.25 L414.07 284.22 L414.44 284.19 L414.81 284.16 L415.17 284.13 L415.54 284.10 L415.90 284.07 L416.27 284.04 L416.64 284.01 L417.00 283.98 L417.37 283.96 L417.73 283.93 L418.10 283.90 L418.46 283.87 L418.83 283.84 L419.20 283.82 L419.56 283.79 L419.93 283.76 L420.29 283.73 L420.66 283.71 L421.03 283.68 L421.39 283.65 L421.76 283.63 L422.12 283.60 L422.49 283.57 L422.85 283.55 L423.22 283.52 L423.59 283.50 L423.95 283.47 L424.32 283.44 L424.68 283.42 L425.05 283.39 L425.41 283.37 L425.78 283.34 L426.15 283.32 L426.51 283.29 L426.88 283.27 L427.24 283.25 L427.61 283.22 L427.98 283.20 L428.34 283.17 L428.71 283.15 L429.07 283.13 L429.44 283.10 L429.80 283.08 L430.17 283.06 L430.54 283.03 L430.90 283.01 L431.27 282.99 L431.63 282.97 L432.00 282.94 L432.36 282.92 L432.73 282.90 L433.10 282.88 L433.46 282.86 L433.83 282.84 L434.19 282.81 L434.56 282.79 L434.93 282.77 L435.29 282.75 L435.66 282.73 L436.02 282.71 L436.39 282.69 L436.75 282.67 L437.12 282.65 L437.49 282.63 L437.85 282.61 L438.22 282.59 L438.58 282.57 L438.95 282.55 L439.31 282.53 L439.68 282.51 L440.05 282.49 L440.41 282.47 L440.78 282.45 L441.14 282.43 L441.51 282.41 L441.88 282.39 L442.24 282.37 L442.61 282.36 L442.97 282.34 L443.34 282.32 L443.70 282.30 L444.07 282.28 L444.44 282.27 L444.80 282.25 L445.17 282.23 L445.53 282.21 L445.90 282.19 L446.27 282.18 L446.63 282.16 L447.00 282.14 L447.36 282.13 L447.73 282.11 L448.09 282.09 L448.46 282.08 L448.83 282.06 L449.19 282.04 L449.56 282.03 L449.92 282.01 L450.29 281.99 L450.65 281.98 L451.02 281.96 L451.39 281.95 L451.75 281.93 L452.12 281.91 L452.48 281.90 L452.85 281.88 L453.22 281.87 L453.58 281.85 L453.95 281.84 L454.31 281.82 L454.68 281.81 L455.04 281.79 L455.41 281.78 L455.78 281.76 L456.14 281.75 L456.51 281.74 L456.87 281.72 L457.24 281.71 L457.60 281.69 L457.97 281.68 L458.34 281.66 L458.70 281.65 L459.07 281.64 L459.43 281.62 L459.80 281.61 L460.17 281.60 L460.53 281.58 L460.90 281.57 L461.26 281.56 L461.63 281.54 L461.99 281.53 L462.36 281.52 L462.73 281.50 L463.09 281.49 L463.46 281.48 L463.82 281.47 L464.19 281.45 L464.55 281.44 L464.92 281.43 L465.29 281.42 L465.65 281.40 L466.02 281.39 L466.38 281.38 L466.75 281.37 L467.12 281.36 L467.48 281.34 L467.85 281.33 L468.21 281.32 L468.58 281.31 L468.94 281.30 L469.31 281.29 L469.68 281.28 L470.04 281.26 L470.41 281.25 L470.77 281.24 L471.14 281.23 L471.51 281.22 L471.87 281.21 L472.24 281.20 L472.60 281.19 L472.97 281.18 L473.33 281.17 L473.70 281.16 L474.07 281.15 L474.43 281.14 L474.80 281.13 L475.16 281.12 L475.53 281.11 L475.89 281.09 L476.26 281.08 L476.63 281.08 L476.99 281.07 L477.36 281.06 L477.72 281.05 L478.09 281.04 L478.46 281.03 L478.82 281.02 L479.19 281.01 L479.55 281.00 L479.92 280.99 L480.28 280.98 L480.65 280.97 L481.02 280.96 L481.38 280.95 L481.75 280.94 L482.11 280.93 L482.48 280.93 L482.84 280.92 L483.21 280.91 L483.58 280.90 L483.94 280.89 L484.31 280.88 L484.67 280.87 L485.04 280.86 L485.41 280.86 L485.77 280.85 L486.14 280.84 L486.50 280.83 L486.87 280.82 L487.23 280.82 L487.60 280.81 L487.97 280.80 L488.33 280.79 L488.70 280.78 L489.06 280.78 L489.43 280.77 L489.79 280.76 L490.16 280.75 L490.53 280.74 L490.89 280.74 L491.26 280.73 L491.62 280.72 L491.99 280.71 L492.36 280.71 L492.72 280.70 L493.09 280.69 L493.45 280.69 L493.82 280.68 L494.18 280.67 L494.55 280.66 L494.92 280.66 L495.28 280.65 L495.65 280.64 L496.01 280.64 L496.38 280.63 L496.75 280.62 L497.11 280.62 L497.48 280.61 L497.84 280.60 L498.21 280.60 L498.57 280.59 L498.94 280.58 L499.31 280.58 L499.67 280.57 L500.04 280.56 L500.40 280.56 L500.77 280.55 L501.13 280.55 L501.50 280.54 L501.87 280.53 L502.23 280.53 L502.60 280.52 L502.96 280.51 L503.33 280.51 L503.70 280.50 L504.06 280.50 L504.43 280.49 L504.79 280.49 L505.16 280.48 L505.52 280.47 L505.89 280.47 L506.26 280.46 L506.62 280.46 L506.99 280.45 L507.35 280.45 L507.72 280.44 L508.08 280.43 L508.45 280.43 L508.82 280.42 L509.18 280.42 L509.55 280.41 L509.91 280.41 L510.28 280.40 L510.65 280.40 L511.01 280.39 L511.38 280.39 L511.74 280.38 L512.11 280.38 L512.47 280.37 L512.84 280.37 L513.21 280.36 L513.57 280.36 L513.94 280.35 L514.30 280.35 L514.67 280.34 L515.03 280.34 L515.40 280.33 L515.77 280.33 L516.13 280.32 L516.50 280.32 L516.86 280.32 L517.23 280.31 L517.60 280.31 L517.96 280.30 L518.33 280.30 L518.69 280.29 L519.06 280.29 L519.42 280.28 L519.79 280.28 L520.16 280.28 L520.52 280.27 L520.89 280.27 L521.25 280.26 L521.62 280.26 L521.99 280.25 L522.35 280.25 L522.72 280.25 L523.08 280.24 L523.45 280.24 L523.81 280.23 L524.18 280.23 L524.55 280.23 L524.91 280.22 L525.28 280.22 L525.64 280.21 L526.01 280.21 L526.37 280.21 L526.74 280.20 L527.11 280.20 L527.47 280.20 L527.84 280.19 L528.20 280.19 L528.57 280.19 L528.94 280.18 L529.30 280.18 L529.67 280.17 L530.03 280.17 L530.40 280.17 L530.76 280.16 L531.13 280.16 L531.50 280.16 L531.86 280.15 L532.23 280.15 L532.59 280.15 L532.96 280.14 L533.32 280.14 L533.69 280.14 L534.06 280.13 L534.42 280.13 L534.79 280.13 L535.15 280.12 L535.52 280.12 L535.89 280.12 L536.25 280.11 L536.62 280.11 L536.98 280.11 L537.35 280.11 L537.71 280.10 L538.08 280.10 L538.45 280.10 L538.81 280.09 L539.18 280.09 L539.54 280.09 L539.91 280.08 L540.27 280.08 L540.64 280.08 L541.01 280.08 L541.37 280.07 L541.74 280.07 L542.10 280.07 L542.47 280.07 L542.84 280.06 L543.20 280.06 L543.57 280.06 L543.93 280.05 L544.30 280.05 L544.66 280.05 L545.03 280.05 L545.40 280.04 L545.76 280.04 L546.13 280.04 L546.49 280.04 L546.86 280.03 L547.23 280.03 L547.59 280.03 L547.96 280.03 L548.32 280.02 L548.69 280.02 L549.05 280.02 L549.42 280.02 L549.79 280.01 L550.15 280.01 L550.52 280.01 L550.88 280.01 L551.25 280.00 L551.61 280.00 L551.98 280.00 L552.35 280.00 L552.71 280.00 L553.08 279.99 L553.44 279.99 L553.81 279.99 L554.18 279.99 L554.54 279.98 L554.91 279.98 L555.27 279.98 L555.64 279.98 L556.00 279.98 L556.37 279.97 L556.74 279.97 L557.10 279.97 L557.47 279.97 L557.83 279.97 L558.20 279.96 L558.56 279.96 L558.93 279.96 L559.30 279.96 L559.66 279.96 L560.03 279.95 L560.39 279.95 L560.76 279.95 L561.13 279.95 L561.49 279.95 L561.86 279.94 L562.22 279.94 L562.59 279.94 L562.95 279.94 L563.32 279.94 L563.69 279.94 L564.05 279.93 L564.42 279.93 L564.78 279.93 L565.15 279.93 L565.51 279.93 L565.88 279.93 L566.25 279.92 L566.61 279.92 L566.98 279.92 L567.34 279.92 L567.71 279.92 L568.08 279.91 L568.44 279.91 L568.81 279.91 L569.17 279.91 L569.54 279.91 L569.90 279.91 L570.27 279.91 L570.64 279.90 L571.00 279.90 L571.37 279.90 L571.73 279.90 L572.10 279.90 L572.47 279.90 L572.83 279.89 L573.20 279.89 L573.56 279.89 L573.93 279.89 L574.29 279.89 L574.66 279.89 L575.03 279.89 L575.39 279.88 L575.76 279.88 L576.12 279.88 L576.49 279.88 L576.85 279.88 L577.22 279.88 L577.59 279.88 L577.95 279.87 L578.32 279.87 L578.68 279.87 L579.05 279.87 L579.42 279.87 L579.78 279.87 L580.15 279.87 L580.51 279.87 L580.88 279.86 L581.24 279.86 L581.61 279.86 L581.98 279.86 L582.34 279.86 L582.71 279.86 L583.07 279.86 L583.44 279.86 L583.80 279.85 L584.17 279.85 L584.54 279.85 L584.90 279.85 L585.27 279.85 L585.63 279.85 L586.00 279.85 L586.37 279.85 L586.73 279.85 L587.10 279.84 L587.46 279.84 L587.83 279.84 L588.19 279.84 L588.56 279.84 L588.93 279.84 L589.29 279.84 L589.66 279.84 L590.02 279.84 L590.39 279.83 L590.75 279.83 L591.12 279.83 L591.49 279.83 L591.85 279.83 L592.22 279.83 L592.58 279.83 L592.95 279.83 L593.32 279.83 L593.68 279.83 L594.05 279.82 L594.41 279.82 L594.78 279.82 L595.14 279.82 L595.51 279.82 L595.88 279.82 L596.24 279.82 L596.61 279.82 L596.97 279.82 L597.34 279.82 L597.70 279.82 L598.07 279.81 L598.44 279.81 L598.80 279.81 L599.17 279.81 L599.53 279.81 L599.90 279.81 L600.27 279.81 L600.63 279.81 L601.00 279.81 L601.36 279.81 L601.73 279.81 L602.09 279.81 L602.46 279.80 L602.83 279.80 L603.19 279.80 L603.56 279.80 L603.92 279.80 L604.29 279.80 L604.66 279.80 L605.02 279.80 L605.39 279.80 L605.75 279.80 L606.12 279.80 L606.48 279.80 L606.85 279.80 L607.22 279.79 L607.58 279.79 L607.95 279.79 L608.31 279.79 L608.68 279.79 L609.04 279.79 L609.41 279.79 L609.78 279.79 L610.14 279.79 L610.51 279.79 L610.87 279.79 L611.24 279.79 L611.61 279.79 L611.97 279.79 L612.34 279.78 L612.70 279.78 L613.07 279.78 L613.43 279.78 L613.80 279.78 L614.17 279.78 L614.53 279.78 L614.90 279.78 L615.26 279.78 L615.63 279.78 L615.99 279.78 L616.36 279.78 L616.73 279.78 L617.09 279.78 L617.46 279.78 L617.82 279.78 L618.19 279.78 L618.56 279.77 L618.92 279.77 L619.29 279.77 L619.65 279.77 L620.02 279.77 L620.38 279.77 L620.75 279.77 L621.12 279.77 L621.48 279.77 L621.85 279.77 L622.21 279.77 L622.58 279.77 L622.94 279.77 L623.31 279.77 L623.68 279.77 L624.04 279.77 L624.41 279.77 L624.77 279.77 L625.14 279.76 L625.51 279.76 L625.87 279.76 L626.24 279.76 L626.60 279.76 L626.97 279.76 L627.33 279.76 L627.70 279.76 L628.07 279.76 L628.43 279.76 L628.80 279.76 L629.16 279.76 L629.53 279.76 L629.90 279.76 L630.26 279.76 L630.63 279.76 L630.99 279.76 L631.36 279.76 L631.72 279.76 L632.09 279.76 L632.46 279.76 L632.82 279.76 L633.19 279.75 L633.55 279.75 L633.92 279.75 L634.28 279.75 L634.65 279.75 L635.02 279.75 L635.38 279.75 L635.75 279.75 L636.11 279.75 L636.48 279.75 L636.85 279.75 L637.21 279.75 L637.58 279.75 L637.94 279.75 L638.31 279.75 L638.67 279.75 L639.04 279.75 L639.41 279.75 L639.77 279.75 L640.14 279.75 L640.50 279.75 L640.87 279.75 L641.23 279.75 L641.60 279.75 L641.97 279.75 L642.33 279.74 L642.70 279.74 L643.06 279.74 L643.43 279.74 L643.80 279.74 L644.16 279.74 L644.53 279.74 L644.89 279.74 L645.26 279.74 L645.62 279.74 L645.99 279.74 L646.36 279.74 L646.72 279.74 L647.09 279.74 L647.45 279.74 L647.82 279.74 L648.18 279.74 L648.55 279.74 L648.92 279.74 L649.28 279.74 L649.65 279.74 L650.01 279.74 L650.38 279.74 L650.75 279.74 L651.11 279.74 L651.48 279.74 L651.84 279.74 L652.21 279.74 L652.57 279.74 L652.94 279.74 L653.31 279.74 L653.67 279.74 L654.04 279.73 L654.40 279.73 L654.77 279.73 L655.14 279.73 L655.50 279.73 L655.87 279.73 L656.23 279.73 L656.60 279.73 L656.96 279.73 L657.33 279.73 L657.70 279.73 L658.06 279.73 L658.43 279.73 L658.79 279.73 L659.16 279.73 L659.52 279.73 L659.89 279.73 L660.26 279.73 L660.62 279.73 L660.99 279.73 L661.35 279.73 L661.72 279.73 L662.09 279.73 L662.45 279.73 L662.82 279.73 L663.18 279.73 L663.55 279.73 L663.91 279.73 L664.28 279.73 L664.65 279.73 L665.01 279.73 L665.38 279.73 L665.74 279.73 L666.11 279.73 L666.47 279.73 L666.84 279.73 L667.21 279.73 L667.57 279.73 L667.94 279.73 L668.30 279.73 L668.67 279.73 L669.04 279.73 L669.40 279.73 L669.77 279.72 L670.13 279.72 L670.50 279.72 L670.86 279.72 L671.23 279.72 L671.60 279.72 L671.96 279.72 L672.33 279.72 L672.69 279.72 L673.06 279.72 L673.42 279.72 L673.79 279.72 L674.16 279.72 L674.52 279.72 L674.89 279.72 L675.25 279.72 L675.62 279.72 L675.99 279.72 L676.35 279.72 L676.72 279.72 L677.08 279.72 L677.45 279.72 L677.81 279.72 L678.18 279.72 L678.55 279.72 L678.91 279.72 L679.28 279.72 L679.64 279.72 L680.01 279.72 L680.38 279.72 L680.74 279.72 L681.11 279.72 L681.47 279.72 L681.84 279.72 L682.20 279.72 L682.57 279.72 L682.94 279.72 L683.30 279.72 L683.67 279.72 L684.03 279.72 L684.40 279.72 L684.76 279.72 L685.13 279.72 L685.50 279.72 L685.86 279.72 L686.23 279.72 L686.59 279.72 L686.96 279.72 L687.33 279.72 L687.69 279.72 L688.06 279.72 L688.42 279.72 L688.79 279.72 L689.15 279.72 L689.52 279.72 L689.89 279.72 L690.25 279.72 L690.62 279.72 L690.98 279.72 L691.35 279.72 L691.71 279.72 L692.08 279.72 L692.45 279.72 L692.81 279.72 L693.18 279.72 L693.54 279.71 L693.91 279.71 L694.28 279.71 L694.64 279.71 L695.01 279.71 L695.37 279.71 L695.74 279.71 L696.10 279.71 L696.47 279.71 L696.84 279.71 L697.20 279.71 L697.57 279.71 L697.93 279.71 L698.30 279.71 L698.66 279.71 L699.03 279.71 L699.40 279.71 L699.76 279.71 L700.13 279.71 L700.49 279.71 L700.86 279.71 L701.23 279.71 L701.59 279.71 L701.96 279.71 L702.32 279.71 L702.69 279.71 L703.05 279.71 L703.42 279.71 L703.79 279.71 L704.15 279.71 L704.52 279.71 L704.88 279.71 L705.25 279.71 L705.62 279.71 L705.98 279.71 L706.35 279.71 L706.71 279.71 L707.08 279.71 L707.44 279.71 L707.81 279.71 L708.18 279.71 L708.54 279.71 L708.91 279.71 L709.27 279.71 L709.64 279.71 L710.00 279.71 L710.37 279.71 L710.74 279.71 L711.10 279.71 L711.47 279.71 L711.83 279.71 L712.20 279.71 L712.57 279.71 L712.93 279.71 L713.30 279.71 L713.66 279.71 L714.03 279.71 L714.39 279.71 L714.76 279.71 L715.13 279.71 L715.49 279.71 L715.86 279.71 L716.22 279.71 L716.59 279.71 L716.95 279.71 L717.32 279.71 L717.69 279.71 L718.05 279.71 L718.42 279.71 L718.78 279.71 L719.15 279.71 L719.52 279.71 L719.88 279.71 L720.25 279.71 L720.61 279.71 L720.98 279.71 L721.34 279.71 L721.71 279.71 L722.08 279.71 L722.44 279.71 L722.81 279.71 L723.17 279.71 L723.54 279.71 L723.90 279.71 L724.27 279.71 L724.64 279.71 L725.00 279.71 L725.37 279.71 L725.73 279.71 L726.10 279.71 L726.47 279.71 L726.83 279.71 L727.20 279.71 L727.56 279.71 L727.93 279.71 L728.29 279.71 L728.66 279.71 L729.03 279.71 L729.39 279.71 L729.76 279.71 L730.12 279.71 L730.49 279.71 L730.86 279.71 L731.22 279.71 L731.59 279.71 L731.95 279.71 L732.32 279.71 L732.68 279.71 L733.05 279.71 L733.42 279.71 L733.78 279.71 L734.15 279.71 L734.51 279.71 L734.88 279.71 L735.24 279.71 L735.61 279.71 L735.98 279.71 L736.34 279.71 L736.71 279.71 L737.07 279.71 L737.44 279.71 L737.81 279.71 L738.17 279.71 L738.54 279.71 L738.90 279.71 L739.27 279.71 L739.63 279.71 L740.00 279.71" fill="none" stroke="#D95319" stroke-width="4.0" stroke-dasharray="16 16.6" stroke-dashoffset="1.57" stroke-linejoin="round"/>
</g>
<rect x="103.00" y="49.80" width="637.00" height="292.60" fill="none" stroke="#262626" stroke-width="2"/>
<text class="tk" x="75.66" y="289.00">0</text>
<text class="tk" x="50.26" y="184.50">0.5</text>
<path class="tk1" d="M515 0L515 1237L197 1010L197 1180L530 1409L696 1409L696 0Z" transform="translate(75.26,80.00) scale(0.01294,-0.01294)"/>
<text class="tk" x="93.98" y="377.90">0</text>
<text class="tk" x="306.49" y="377.90">5</text>
<path class="tk1" d="M515 0L515 1237L197 1010L197 1180L530 1409L696 1409L696 0Z" transform="translate(510.35,377.90) scale(0.01294,-0.01294)"/><text class="tk" x="525.09" y="377.90">0</text>
<path class="tk1" d="M515 0L515 1237L197 1010L197 1180L530 1409L696 1409L696 0Z" transform="translate(723.16,377.90) scale(0.01294,-0.01294)"/><text class="tk" x="737.90" y="377.90">5</text>
<path d="M803.60 279.70h3.00M972.60 279.70h-3.00M803.60 175.20h3.00M972.60 175.20h-3.00M803.60 70.70h3.00M972.60 70.70h-3.00M803.60 342.40v-3.00M803.60 49.80v3.00M859.93 342.40v-3.00M859.93 49.80v3.00M916.27 342.40v-3.00M916.27 49.80v3.00M972.60 342.40v-3.00M972.60 49.80v3.00" stroke="#262626" stroke-width="2" fill="none"/>
<g clip-path="url(#clipb)">
<path d="M803.60 272.38 L803.88 272.29 L804.16 272.20 L804.45 272.10 L804.73 272.01 L805.01 271.91 L805.29 271.82 L805.57 271.72 L805.86 271.63 L806.14 271.53 L806.42 271.44 L806.70 271.34 L806.99 271.24 L807.27 271.14 L807.55 271.05 L807.83 270.95 L808.11 270.85 L808.40 270.75 L808.68 270.64 L808.96 270.54 L809.24 270.44 L809.52 270.34 L809.81 270.23 L810.09 270.12 L810.37 270.02 L810.65 269.91 L810.94 269.80 L811.22 269.69 L811.50 269.58 L811.78 269.46 L812.06 269.35 L812.35 269.23 L812.63 269.12 L812.91 269.00 L813.19 268.88 L813.47 268.76 L813.76 268.63 L814.04 268.51 L814.32 268.38 L814.60 268.25 L814.89 268.12 L815.17 267.99 L815.45 267.85 L815.73 267.72 L816.01 267.58 L816.30 267.44 L816.58 267.30 L816.86 267.15 L817.14 267.00 L817.42 266.85 L817.71 266.70 L817.99 266.55 L818.27 266.39 L818.55 266.23 L818.84 266.07 L819.12 265.91 L819.40 265.74 L819.68 265.57 L819.96 265.40 L820.25 265.23 L820.53 265.05 L820.81 264.87 L821.09 264.68 L821.37 264.49 L821.66 264.28 L821.94 264.07 L822.22 263.86 L822.50 263.64 L822.79 263.41 L823.07 263.17 L823.35 262.93 L823.63 262.69 L823.91 262.43 L824.20 262.17 L824.48 261.91 L824.76 261.63 L825.04 261.35 L825.32 261.07 L825.61 260.78 L825.89 260.48 L826.17 260.18 L826.45 259.87 L826.74 259.56 L827.02 259.23 L827.30 258.91 L827.58 258.58 L827.86 258.24 L828.15 257.90 L828.43 257.55 L828.71 257.19 L828.99 256.83 L829.27 256.47 L829.56 256.10 L829.84 255.72 L830.12 255.34 L830.40 254.95 L830.69 254.56 L830.97 254.15 L831.25 253.73 L831.53 253.29 L831.81 252.84 L832.10 252.38 L832.38 251.89 L832.66 251.40 L832.94 250.89 L833.22 250.37 L833.51 249.83 L833.79 249.28 L834.07 248.71 L834.35 248.14 L834.64 247.55 L834.92 246.95 L835.20 246.34 L835.48 245.71 L835.76 245.08 L836.05 244.43 L836.33 243.78 L836.61 243.11 L836.89 242.43 L837.17 241.75 L837.46 241.05 L837.74 240.35 L838.02 239.63 L838.30 238.91 L838.58 238.18 L838.87 237.44 L839.15 236.70 L839.43 235.94 L839.71 235.16 L840.00 234.36 L840.28 233.54 L840.56 232.70 L840.84 231.85 L841.12 230.98 L841.41 230.09 L841.69 229.18 L841.97 228.25 L842.25 227.31 L842.53 226.35 L842.82 225.37 L843.10 224.37 L843.38 223.36 L843.66 222.33 L843.95 221.28 L844.23 220.22 L844.51 219.14 L844.79 218.05 L845.07 216.93 L845.36 215.81 L845.64 214.66 L845.92 213.50 L846.20 212.33 L846.48 211.14 L846.77 209.93 L847.05 208.71 L847.33 207.47 L847.61 206.22 L847.90 204.94 L848.18 203.62 L848.46 202.27 L848.74 200.88 L849.02 199.46 L849.31 198.01 L849.59 196.52 L849.87 195.01 L850.15 193.46 L850.43 191.89 L850.72 190.29 L851.00 188.66 L851.28 187.00 L851.56 185.32 L851.85 183.62 L852.13 181.89 L852.41 180.14 L852.69 178.37 L852.97 176.57 L853.26 174.76 L853.54 172.92 L853.82 171.07 L854.10 169.20 L854.38 167.32 L854.67 165.37 L854.95 163.37 L855.23 161.31 L855.51 159.20 L855.80 157.05 L856.08 154.85 L856.36 152.61 L856.64 150.34 L856.92 148.04 L857.21 145.71 L857.49 143.37 L857.77 141.01 L858.05 138.65 L858.33 136.27 L858.62 133.90 L858.90 131.53 L859.18 129.17 L859.46 126.82 L859.75 124.49 L860.03 122.17 L860.31 119.75 L860.59 117.21 L860.87 114.58 L861.16 111.89 L861.44 109.17 L861.72 106.44 L862.00 103.73 L862.28 101.06 L862.57 98.48 L862.85 96.00 L863.13 93.66 L863.41 91.48 L863.70 89.48 L863.98 87.70 L864.26 86.17 L864.54 84.89 L864.82 83.67 L865.11 82.46 L865.39 81.27 L865.67 80.11 L865.95 78.98 L866.23 77.89 L866.52 76.84 L866.80 75.86 L867.08 74.93 L867.36 74.08 L867.65 73.30 L867.93 72.62 L868.21 72.02 L868.49 71.53 L868.77 71.14 L869.06 70.87 L869.34 70.72 L869.62 70.71 L869.90 70.77 L870.18 70.89 L870.47 71.08 L870.75 71.32 L871.03 71.62 L871.31 71.96 L871.59 72.35 L871.88 72.78 L872.16 73.24 L872.44 73.73 L872.72 74.25 L873.01 74.79 L873.29 75.35 L873.57 75.92 L873.85 76.50 L874.13 77.09 L874.42 77.68 L874.70 78.27 L874.98 78.92 L875.26 79.65 L875.54 80.44 L875.83 81.31 L876.11 82.23 L876.39 83.21 L876.67 84.25 L876.96 85.33 L877.24 86.46 L877.52 87.63 L877.80 88.84 L878.08 90.08 L878.37 91.34 L878.65 92.63 L878.93 93.95 L879.21 95.27 L879.49 96.61 L879.78 97.96 L880.06 99.31 L880.34 100.67 L880.62 102.01 L880.91 103.35 L881.19 104.67 L881.47 105.98 L881.75 107.27 L882.03 108.53 L882.32 109.77 L882.60 110.97 L882.88 112.16 L883.16 113.33 L883.44 114.50 L883.73 115.66 L884.01 116.82 L884.29 117.97 L884.57 119.12 L884.86 120.26 L885.14 121.41 L885.42 122.56 L885.70 123.71 L885.98 124.86 L886.27 126.02 L886.55 127.18 L886.83 128.36 L887.11 129.54 L887.39 130.74 L887.68 131.94 L887.96 133.16 L888.24 134.40 L888.52 135.65 L888.81 136.92 L889.09 138.21 L889.37 139.52 L889.65 140.85 L889.93 142.21 L890.22 143.59 L890.50 145.00 L890.78 146.43 L891.06 147.90 L891.34 149.39 L891.63 150.93 L891.91 152.55 L892.19 154.27 L892.47 156.06 L892.76 157.90 L893.04 159.80 L893.32 161.73 L893.60 163.68 L893.88 165.63 L894.17 167.59 L894.45 169.53 L894.73 171.43 L895.01 173.29 L895.29 175.10 L895.58 176.87 L895.86 178.66 L896.14 180.45 L896.42 182.24 L896.71 184.01 L896.99 185.76 L897.27 187.48 L897.55 189.15 L897.83 190.78 L898.12 192.36 L898.40 193.87 L898.68 195.32 L898.96 196.74 L899.24 198.14 L899.53 199.51 L899.81 200.86 L900.09 202.18 L900.37 203.48 L900.66 204.76 L900.94 206.01 L901.22 207.24 L901.50 208.45 L901.78 209.64 L902.07 210.81 L902.35 211.96 L902.63 213.09 L902.91 214.20 L903.19 215.29 L903.48 216.37 L903.76 217.44 L904.04 218.49 L904.32 219.54 L904.61 220.58 L904.89 221.59 L905.17 222.58 L905.45 223.55 L905.73 224.48 L906.02 225.38 L906.30 226.25 L906.58 227.07 L906.86 227.85 L907.14 228.58 L907.43 229.28 L907.71 229.95 L907.99 230.60 L908.27 231.22 L908.55 231.82 L908.84 232.40 L909.12 232.96 L909.40 233.51 L909.68 234.05 L909.97 234.58 L910.25 235.10 L910.53 235.62 L910.81 236.14 L911.09 236.64 L911.38 237.14 L911.66 237.64 L911.94 238.12 L912.22 238.59 L912.50 239.06 L912.79 239.51 L913.07 239.96 L913.35 240.39 L913.63 240.81 L913.92 241.21 L914.20 241.61 L914.48 241.99 L914.76 242.36 L915.04 242.73 L915.33 243.09 L915.61 243.44 L915.89 243.79 L916.17 244.13 L916.45 244.47 L916.74 244.80 L917.02 245.13 L917.30 245.45 L917.58 245.77 L917.87 246.08 L918.15 246.40 L918.43 246.70 L918.71 247.01 L918.99 247.31 L919.28 247.61 L919.56 247.91 L919.84 248.20 L920.12 248.49 L920.40 248.78 L920.69 249.08 L920.97 249.36 L921.25 249.65 L921.53 249.94 L921.82 250.23 L922.10 250.52 L922.38 250.81 L922.66 251.10 L922.94 251.39 L923.23 251.68 L923.51 251.97 L923.79 252.27 L924.07 252.56 L924.35 252.86 L924.64 253.16 L924.92 253.45 L925.20 253.75 L925.48 254.04 L925.77 254.34 L926.05 254.63 L926.33 254.92 L926.61 255.21 L926.89 255.50 L927.18 255.79 L927.46 256.07 L927.74 256.36 L928.02 256.64 L928.30 256.92 L928.59 257.20 L928.87 257.48 L929.15 257.76 L929.43 258.03 L929.72 258.31 L930.00 258.58 L930.28 258.85 L930.56 259.11 L930.84 259.38 L931.13 259.64 L931.41 259.91 L931.69 260.17 L931.97 260.43 L932.25 260.69 L932.54 260.94 L932.82 261.20 L933.10 261.45 L933.38 261.71 L933.67 261.96 L933.95 262.21 L934.23 262.46 L934.51 262.71 L934.79 262.96 L935.08 263.21 L935.36 263.46 L935.64 263.71 L935.92 263.95 L936.20 264.20 L936.49 264.45 L936.77 264.70 L937.05 264.94 L937.33 265.19 L937.62 265.44 L937.90 265.69 L938.18 265.94 L938.46 266.19 L938.74 266.44 L939.03 266.69 L939.31 266.94 L939.59 267.19 L939.87 267.44 L940.15 267.70 L940.44 267.95 L940.72 268.21 L941.00 268.47 L941.28 268.73 L941.56 268.99 L941.85 269.26 L942.13 269.52 L942.41 269.79 L942.69 270.05 L942.98 270.31 L943.26 270.57 L943.54 270.82 L943.82 271.07 L944.10 271.33 L944.39 271.58 L944.67 271.83 L944.95 272.09 L945.23 272.34 L945.51 272.60 L945.80 272.85 L946.08 273.11 L946.36 273.36 L946.64 273.61 L946.93 273.86 L947.21 274.12 L947.49 274.37 L947.77 274.62 L948.05 274.87 L948.34 275.11 L948.62 275.36 L948.90 275.61 L949.18 275.85 L949.46 276.09 L949.75 276.33 L950.03 276.57 L950.31 276.81 L950.59 277.04 L950.88 277.28 L951.16 277.51 L951.44 277.74 L951.72 277.96 L952.00 278.19 L952.29 278.41 L952.57 278.63 L952.85 278.84 L953.13 279.06 L953.41 279.27 L953.70 279.47 L953.98 279.68 L954.26 279.88 L954.54 280.08 L954.83 280.29 L955.11 280.49 L955.39 280.69 L955.67 280.89 L955.95 281.09 L956.24 281.29 L956.52 281.49 L956.80 281.69 L957.08 281.88 L957.36 282.07 L957.65 282.26 L957.93 282.45 L958.21 282.63 L958.49 282.80 L958.78 282.98 L959.06 283.15 L959.34 283.31 L959.62 283.47 L959.90 283.62 L960.19 283.77 L960.47 283.91 L960.75 284.04 L961.03 284.17 L961.31 284.29 L961.60 284.41 L961.88 284.53 L962.16 284.65 L962.44 284.77 L962.73 284.90 L963.01 285.01 L963.29 285.13 L963.57 285.24 L963.85 285.34 L964.14 285.44 L964.42 285.52 L964.70 285.60 L964.98 285.66 L965.26 285.71 L965.55 285.74 L965.83 285.76 L966.11 285.76 L966.39 285.73 L966.68 285.69 L966.96 285.62 L967.24 285.53 L967.52 285.43 L967.80 285.31 L968.09 285.18 L968.37 285.04 L968.65 284.89 L968.93 284.73 L969.21 284.57 L969.50 284.40 L969.78 284.23 L970.06 284.05 L970.34 283.88 L970.63 283.70 L970.91 283.49 L971.19 283.26 L971.47 283.00 L971.75 282.72 L972.04 282.43 L972.32 282.11 L972.60 281.78" fill="none" stroke="#0072BD" stroke-width="4.0" stroke-linejoin="round" stroke-linecap="round"/>
<path d="M803.60 279.70 L804.95 279.70 L806.30 279.70 L807.66 279.70 L809.01 279.70 L810.36 279.70 L811.71 279.70 L813.06 279.70 L814.42 279.70 L815.77 279.70 L817.12 279.70 L818.47 279.70 L819.82 279.70 L821.18 279.70 L822.53 279.70 L823.88 279.70 L825.23 279.70 L826.58 279.70 L827.94 279.70 L829.29 279.70 L830.64 279.70 L831.99 279.70 L833.34 279.70 L834.70 279.70 L836.05 279.70 L837.40 279.70 L838.75 279.70 L840.10 279.70 L841.46 279.70 L842.81 279.70 L844.16 279.70 L845.51 279.70 L846.86 279.70 L848.22 279.70 L849.57 279.70 L850.92 279.70 L852.27 279.70 L853.62 279.70 L854.98 279.70 L856.33 279.70 L857.68 279.70 L859.03 279.70 L860.38 279.70 L861.74 279.70 L863.09 279.70 L864.44 279.70 L865.79 279.70 L867.14 279.70 L868.50 279.70 L869.85 279.70 L869.85 70.70" fill="none" stroke="#D95319" stroke-width="4.0" stroke-dasharray="16 16.6" stroke-linejoin="miter"/><path d="M869.85 70.70 L870.02 71.34 L870.19 71.98 L870.36 72.62 L870.53 73.26 L870.71 73.90 L870.88 74.53 L871.05 75.16 L871.22 75.80 L871.39 76.43 L871.56 77.05 L871.73 77.68 L871.91 78.31 L872.08 78.93 L872.25 79.56 L872.42 80.18 L872.59 80.80 L872.76 81.42 L872.94 82.03 L873.11 82.65 L873.28 83.26 L873.45 83.88 L873.62 84.49 L873.79 85.10 L873.96 85.71 L874.14 86.32 L874.31 86.92 L874.48 87.53 L874.65 88.13 L874.82 88.73 L874.99 89.33 L875.17 89.93 L875.34 90.53 L875.51 91.12 L875.68 91.72 L875.85 92.31 L876.02 92.90 L876.19 93.50 L876.37 94.08 L876.54 94.67 L876.71 95.26 L876.88 95.84 L877.05 96.43 L877.22 97.01 L877.40 97.59 L877.57 98.17 L877.74 98.75 L877.91 99.33 L878.08 99.90 L878.25 100.48 L878.42 101.05 L878.60 101.62 L878.77 102.19 L878.94 102.76 L879.11 103.33 L879.28 103.90 L879.45 104.46 L879.63 105.02 L879.80 105.59 L879.97 106.15 L880.14 106.71 L880.31 107.27 L880.48 107.82 L880.65 108.38 L880.83 108.93 L881.00 109.49 L881.17 110.04 L881.34 110.59 L881.51 111.14 L881.68 111.69 L881.86 112.23 L882.03 112.78 L882.20 113.32 L882.37 113.87 L882.54 114.41 L882.71 114.95 L882.88 115.49 L883.06 116.03 L883.23 116.56 L883.40 117.10 L883.57 117.63 L883.74 118.17 L883.91 118.70 L884.09 119.23 L884.26 119.76 L884.43 120.28 L884.60 120.81 L884.77 121.34 L884.94 121.86 L885.11 122.38 L885.29 122.90 L885.46 123.42 L885.63 123.94 L885.80 124.46 L885.97 124.98 L886.14 125.49 L886.32 126.01 L886.49 126.52 L886.66 127.03 L886.83 127.54 L887.00 128.05 L887.17 128.56 L887.35 129.07 L887.52 129.57 L887.69 130.08 L887.86 130.58 L888.03 131.08 L888.20 131.59 L888.37 132.09 L888.55 132.58 L888.72 133.08 L888.89 133.58 L889.06 134.07 L889.23 134.57 L889.40 135.06 L889.58 135.55 L889.75 136.04 L889.92 136.53 L890.09 137.02 L890.26 137.51 L890.43 137.99 L890.60 138.48 L890.78 138.96 L890.95 139.44 L891.12 139.92 L891.29 140.40 L891.46 140.88 L891.63 141.36 L891.81 141.84 L891.98 142.31 L892.15 142.79 L892.32 143.26 L892.49 143.73 L892.66 144.20 L892.83 144.67 L893.01 145.14 L893.18 145.61 L893.35 146.07 L893.52 146.54 L893.69 147.00 L893.86 147.47 L894.04 147.93 L894.21 148.39 L894.38 148.85 L894.55 149.31 L894.72 149.77 L894.89 150.22 L895.06 150.68 L895.24 151.13 L895.41 151.59 L895.58 152.04 L895.75 152.49 L895.92 152.94 L896.09 153.39 L896.27 153.84 L896.44 154.28 L896.61 154.73 L896.78 155.17 L896.95 155.62 L897.12 156.06 L897.29 156.50 L897.47 156.94 L897.64 157.38 L897.81 157.82 L897.98 158.25 L898.15 158.69 L898.32 159.12 L898.50 159.56 L898.67 159.99 L898.84 160.42 L899.01 160.85 L899.18 161.28 L899.35 161.71 L899.52 162.14 L899.70 162.57 L899.87 162.99 L900.04 163.42 L900.21 163.84 L900.38 164.26 L900.55 164.68 L900.73 165.10 L900.90 165.52 L901.07 165.94 L901.24 166.36 L901.41 166.78 L901.58 167.19 L901.75 167.61 L901.93 168.02 L902.10 168.43 L902.27 168.84 L902.44 169.25 L902.61 169.66 L902.78 170.07 L902.96 170.48 L903.13 170.88 L903.30 171.29 L903.47 171.69 L903.64 172.10 L903.81 172.50 L903.98 172.90 L904.16 173.30 L904.33 173.70 L904.50 174.10 L904.67 174.50 L904.84 174.89 L905.01 175.29 L905.19 175.68 L905.36 176.08 L905.53 176.47 L905.70 176.86 L905.87 177.25 L906.04 177.64 L906.21 178.03 L906.39 178.42 L906.56 178.81 L906.73 179.19 L906.90 179.58 L907.07 179.96 L907.24 180.34 L907.42 180.73 L907.59 181.11 L907.76 181.49 L907.93 181.87 L908.10 182.25 L908.27 182.62 L908.44 183.00 L908.62 183.38 L908.79 183.75 L908.96 184.12 L909.13 184.50 L909.30 184.87 L909.47 185.24 L909.65 185.61 L909.82 185.98 L909.99 186.35 L910.16 186.72 L910.33 187.08 L910.50 187.45 L910.67 187.81 L910.85 188.18 L911.02 188.54 L911.19 188.90 L911.36 189.26 L911.53 189.62 L911.70 189.98 L911.88 190.34 L912.05 190.70 L912.22 191.05 L912.39 191.41 L912.56 191.76 L912.73 192.12 L912.90 192.47 L913.08 192.82 L913.25 193.18 L913.42 193.53 L913.59 193.88 L913.76 194.22 L913.93 194.57 L914.11 194.92 L914.28 195.26 L914.45 195.61 L914.62 195.95 L914.79 196.30 L914.96 196.64 L915.13 196.98 L915.31 197.32 L915.48 197.66 L915.65 198.00 L915.82 198.34 L915.99 198.68 L916.16 199.02 L916.34 199.35 L916.51 199.69 L916.68 200.02 L916.85 200.35 L917.02 200.69 L917.19 201.02 L917.36 201.35 L917.54 201.68 L917.71 202.01 L917.88 202.34 L918.05 202.66 L918.22 202.99 L918.39 203.32 L918.57 203.64 L918.74 203.97 L918.91 204.29 L919.08 204.61 L919.25 204.93 L919.42 205.25 L919.59 205.57 L919.77 205.89 L919.94 206.21 L920.11 206.53 L920.28 206.85 L920.45 207.16 L920.62 207.48 L920.80 207.79 L920.97 208.11 L921.14 208.42 L921.31 208.73 L921.48 209.04 L921.65 209.35 L921.82 209.66 L922.00 209.97 L922.17 210.28 L922.34 210.59 L922.51 210.90 L922.68 211.20 L922.85 211.51 L923.03 211.81 L923.20 212.11 L923.37 212.42 L923.54 212.72 L923.71 213.02 L923.88 213.32 L924.05 213.62 L924.23 213.92 L924.40 214.22 L924.57 214.52 L924.74 214.81 L924.91 215.11 L925.08 215.40 L925.26 215.70 L925.43 215.99 L925.60 216.28 L925.77 216.58 L925.94 216.87 L926.11 217.16 L926.28 217.45 L926.46 217.74 L926.63 218.03 L926.80 218.31 L926.97 218.60 L927.14 218.89 L927.31 219.17 L927.49 219.46 L927.66 219.74 L927.83 220.02 L928.00 220.31 L928.17 220.59 L928.34 220.87 L928.51 221.15 L928.69 221.43 L928.86 221.71 L929.03 221.99 L929.20 222.26 L929.37 222.54 L929.54 222.82 L929.72 223.09 L929.89 223.37 L930.06 223.64 L930.23 223.91 L930.40 224.19 L930.57 224.46 L930.74 224.73 L930.92 225.00 L931.09 225.27 L931.26 225.54 L931.43 225.81 L931.60 226.07 L931.77 226.34 L931.95 226.61 L932.12 226.87 L932.29 227.14 L932.46 227.40 L932.63 227.67 L932.80 227.93 L932.97 228.19 L933.15 228.45 L933.32 228.71 L933.49 228.97 L933.66 229.23 L933.83 229.49 L934.00 229.75 L934.18 230.01 L934.35 230.26 L934.52 230.52 L934.69 230.77 L934.86 231.03 L935.03 231.28 L935.20 231.54 L935.38 231.79 L935.55 232.04 L935.72 232.29 L935.89 232.54 L936.06 232.79 L936.23 233.04 L936.41 233.29 L936.58 233.54 L936.75 233.79 L936.92 234.03 L937.09 234.28 L937.26 234.52 L937.43 234.77 L937.61 235.01 L937.78 235.26 L937.95 235.50 L938.12 235.74 L938.29 235.98 L938.46 236.22 L938.64 236.46 L938.81 236.70 L938.98 236.94 L939.15 237.18 L939.32 237.42 L939.49 237.66 L939.66 237.89 L939.84 238.13 L940.01 238.36 L940.18 238.60 L940.35 238.83 L940.52 239.07 L940.69 239.30 L940.87 239.53 L941.04 239.76 L941.21 239.99 L941.38 240.22 L941.55 240.45 L941.72 240.68 L941.89 240.91 L942.07 241.14 L942.24 241.37 L942.41 241.59 L942.58 241.82 L942.75 242.04 L942.92 242.27 L943.10 242.49 L943.27 242.72 L943.44 242.94 L943.61 243.16 L943.78 243.38 L943.95 243.60 L944.12 243.82 L944.30 244.04 L944.47 244.26 L944.64 244.48 L944.81 244.70 L944.98 244.92 L945.15 245.14 L945.33 245.35 L945.50 245.57 L945.67 245.78 L945.84 246.00 L946.01 246.21 L946.18 246.43 L946.35 246.64 L946.53 246.85 L946.70 247.06 L946.87 247.27 L947.04 247.49 L947.21 247.70 L947.38 247.91 L947.56 248.11 L947.73 248.32 L947.90 248.53 L948.07 248.74 L948.24 248.94 L948.41 249.15 L948.58 249.36 L948.76 249.56 L948.93 249.77 L949.10 249.97 L949.27 250.17 L949.44 250.38 L949.61 250.58 L949.79 250.78 L949.96 250.98 L950.13 251.18 L950.30 251.38 L950.47 251.58 L950.64 251.78 L950.81 251.98 L950.99 252.18 L951.16 252.37 L951.33 252.57 L951.50 252.77 L951.67 252.96 L951.84 253.16 L952.02 253.35 L952.19 253.55 L952.36 253.74 L952.53 253.93 L952.70 254.13 L952.87 254.32 L953.04 254.51 L953.22 254.70 L953.39 254.89 L953.56 255.08 L953.73 255.27 L953.90 255.46 L954.07 255.65 L954.25 255.84 L954.42 256.02 L954.59 256.21 L954.76 256.40 L954.93 256.58 L955.10 256.77 L955.27 256.95 L955.45 257.14 L955.62 257.32 L955.79 257.50 L955.96 257.68 L956.13 257.87 L956.30 258.05 L956.48 258.23 L956.65 258.41 L956.82 258.59 L956.99 258.77 L957.16 258.95 L957.33 259.13 L957.50 259.31 L957.68 259.48 L957.85 259.66 L958.02 259.84 L958.19 260.01 L958.36 260.19 L958.53 260.36 L958.71 260.54 L958.88 260.71 L959.05 260.89 L959.22 261.06 L959.39 261.23 L959.56 261.40 L959.73 261.58 L959.91 261.75 L960.08 261.92 L960.25 262.09 L960.42 262.26 L960.59 262.43 L960.76 262.60 L960.94 262.76 L961.11 262.93 L961.28 263.10 L961.45 263.27 L961.62 263.43 L961.79 263.60 L961.96 263.76 L962.14 263.93 L962.31 264.09 L962.48 264.26 L962.65 264.42 L962.82 264.58 L962.99 264.75 L963.17 264.91 L963.34 265.07 L963.51 265.23 L963.68 265.39 L963.85 265.55 L964.02 265.71 L964.19 265.87 L964.37 266.03 L964.54 266.19 L964.71 266.35 L964.88 266.51 L965.05 266.66 L965.22 266.82 L965.40 266.98 L965.57 267.13 L965.74 267.29 L965.91 267.44 L966.08 267.60 L966.25 267.75 L966.42 267.90 L966.60 268.06 L966.77 268.21 L966.94 268.36 L967.11 268.51 L967.28 268.67 L967.45 268.82 L967.63 268.97 L967.80 269.12 L967.97 269.27 L968.14 269.42 L968.31 269.56 L968.48 269.71 L968.65 269.86 L968.83 270.01 L969.00 270.16 L969.17 270.30 L969.34 270.45 L969.51 270.59 L969.68 270.74 L969.86 270.88 L970.03 271.03 L970.20 271.17 L970.37 271.32 L970.54 271.46 L970.71 271.60 L970.88 271.74 L971.06 271.89 L971.23 272.03 L971.40 272.17 L971.57 272.31 L971.74 272.45 L971.91 272.59 L972.09 272.73 L972.26 272.87 L972.43 273.01 L972.60 273.15" fill="none" stroke="#D95319" stroke-width="4.0" stroke-dasharray="16 16.6" stroke-dashoffset="14.45" stroke-linejoin="round"/>
</g>
<rect x="803.60" y="49.80" width="169.00" height="292.60" fill="none" stroke="#262626" stroke-width="2"/>
<text class="tk" x="776.26" y="289.00">0</text>
<text class="tk" x="750.86" y="184.50">0.5</text>
<path class="tk1" d="M515 0L515 1237L197 1010L197 1180L530 1409L696 1409L696 0Z" transform="translate(775.86,80.00) scale(0.01294,-0.01294)"/>
<path class="tk1" d="M515 0L515 1237L197 1010L197 1180L530 1409L696 1409L696 0Z" transform="translate(782.48,377.90) scale(0.01294,-0.01294)"/><text class="tk" x="797.22" y="377.90">.5</text>
<text class="tk" x="850.86" y="377.90">2</text>
<text class="tk" x="894.67" y="377.90">2.5</text>
<text class="tk" x="964.38" y="377.90">3</text>
<path d="M103.00 746.40h6.40M740.00 746.40h-6.40M103.00 649.27h6.40M740.00 649.27h-6.40M103.00 552.13h6.40M740.00 552.13h-6.40M103.00 455.00h6.40M740.00 455.00h-6.40M103.00 746.40v-6.40M103.00 455.00v6.40M315.33 746.40v-6.40M315.33 455.00v6.40M527.67 746.40v-6.40M527.67 455.00v6.40M740.00 746.40v-6.40M740.00 455.00v6.40" stroke="#262626" stroke-width="2" fill="none"/>
<g clip-path="url(#clipc)">
<path d="M103.00 649.27 L103.42 649.27 L103.85 649.27 L104.27 649.27 L104.70 649.27 L105.12 649.27 L105.55 649.27 L105.97 649.27 L106.40 649.27 L106.82 649.27 L107.25 649.27 L107.67 649.27 L108.10 649.27 L108.52 649.27 L108.95 649.27 L109.37 649.27 L109.80 649.27 L110.22 649.27 L110.65 649.27 L111.07 649.27 L111.50 649.27 L111.92 649.27 L112.35 649.27 L112.77 649.27 L113.20 649.27 L113.62 649.27 L114.05 649.27 L114.47 649.27 L114.90 649.27 L115.32 649.27 L115.75 649.27 L116.17 649.27 L116.60 649.27 L117.02 649.27 L117.45 649.27 L117.87 649.27 L118.30 649.27 L118.72 649.27 L119.15 649.27 L119.57 649.27 L120.00 649.27 L120.42 649.27 L120.85 649.27 L121.27 649.27 L121.70 649.27 L122.12 649.27 L122.55 649.27 L122.97 649.27 L123.40 649.27 L123.82 649.27 L124.25 649.27 L124.67 649.27 L125.10 649.27 L125.52 649.27 L125.95 649.27 L126.37 649.27 L126.80 649.27 L127.22 649.27 L127.65 649.27 L128.07 649.27 L128.50 649.27 L128.92 649.27 L129.35 649.27 L129.77 649.27 L130.20 649.27 L130.62 649.27 L131.05 649.27 L131.47 649.27 L131.90 649.27 L132.32 649.27 L132.75 649.27 L133.17 649.27 L133.60 649.27 L134.02 649.27 L134.45 649.27 L134.87 649.27 L135.30 649.27 L135.72 649.27 L136.15 649.27 L136.57 649.27 L137.00 649.27 L137.42 649.27 L137.85 649.27 L138.27 649.27 L138.70 649.27 L139.12 649.27 L139.55 649.27 L139.97 649.27 L140.40 649.27 L140.82 649.27 L141.25 649.27 L141.67 649.27 L142.10 649.26 L142.52 649.26 L142.95 649.25 L143.37 649.24 L143.80 649.22 L144.22 649.21 L144.65 649.19 L145.07 649.18 L145.49 649.16 L145.92 649.13 L146.34 649.11 L146.77 649.08 L147.19 649.06 L147.62 649.03 L148.04 649.00 L148.47 648.97 L148.89 648.94 L149.32 648.90 L149.74 648.87 L150.17 648.83 L150.59 648.80 L151.02 648.76 L151.44 648.72 L151.87 648.68 L152.29 648.64 L152.72 648.58 L153.14 648.52 L153.57 648.44 L153.99 648.36 L154.42 648.27 L154.84 648.17 L155.27 648.06 L155.69 647.95 L156.12 647.83 L156.54 647.70 L156.97 647.57 L157.39 647.43 L157.82 647.28 L158.24 647.13 L158.67 646.97 L159.09 646.81 L159.52 646.64 L159.94 646.47 L160.37 646.29 L160.79 646.11 L161.22 645.93 L161.64 645.74 L162.07 645.55 L162.49 645.36 L162.92 645.15 L163.34 644.92 L163.77 644.66 L164.19 644.39 L164.62 644.09 L165.04 643.78 L165.47 643.46 L165.89 643.12 L166.32 642.78 L166.74 642.43 L167.17 642.08 L167.59 641.73 L168.02 641.37 L168.44 641.00 L168.87 640.62 L169.29 640.23 L169.72 639.82 L170.14 639.39 L170.57 638.94 L170.99 638.46 L171.42 637.95 L171.84 637.42 L172.27 636.85 L172.69 636.24 L173.12 635.59 L173.54 634.87 L173.97 634.05 L174.39 633.14 L174.82 632.13 L175.24 631.03 L175.67 629.84 L176.09 628.57 L176.52 627.22 L176.94 625.78 L177.37 624.17 L177.79 622.34 L178.22 620.31 L178.64 618.09 L179.07 615.70 L179.49 613.16 L179.92 610.49 L180.34 607.66 L180.77 604.57 L181.19 601.22 L181.62 597.60 L182.04 593.73 L182.47 589.61 L182.89 585.26 L183.32 580.68 L183.74 575.69 L184.17 570.21 L184.59 564.29 L185.02 557.98 L185.44 551.34 L185.87 544.41 L186.29 536.84 L186.72 528.57 L187.14 519.90 L187.57 511.09 L187.99 502.41 L188.41 492.79 L188.84 482.76 L189.26 473.95 L189.69 467.98 L190.11 463.55 L190.54 459.64 L190.96 456.68 L191.39 455.13 L191.81 455.20 L192.24 456.23 L192.66 457.89 L193.09 459.94 L193.51 462.12 L193.94 464.98 L194.36 468.74 L194.79 473.17 L195.21 478.01 L195.64 483.01 L196.06 487.94 L196.49 492.56 L196.91 496.92 L197.34 501.19 L197.76 505.46 L198.19 509.81 L198.61 514.32 L199.04 519.09 L199.46 524.18 L199.89 529.70 L200.31 536.20 L200.74 543.39 L201.16 550.49 L201.59 557.13 L202.01 563.65 L202.44 569.57 L202.86 574.81 L203.29 579.67 L203.71 584.20 L204.14 588.43 L204.56 592.42 L204.99 596.21 L205.41 599.61 L205.84 602.42 L206.26 604.77 L206.69 606.85 L207.11 608.78 L207.54 610.62 L207.96 612.33 L208.39 613.86 L208.81 615.24 L209.24 616.52 L209.66 617.73 L210.09 618.88 L210.51 619.98 L210.94 621.07 L211.36 622.14 L211.79 623.21 L212.21 624.31 L212.64 625.41 L213.06 626.49 L213.49 627.56 L213.91 628.60 L214.34 629.62 L214.76 630.61 L215.19 631.58 L215.61 632.53 L216.04 633.46 L216.46 634.38 L216.89 635.30 L217.31 636.22 L217.74 637.15 L218.16 638.09 L218.59 639.05 L219.01 640.03 L219.44 640.99 L219.86 641.93 L220.29 642.88 L220.71 643.82 L221.14 644.75 L221.56 645.66 L221.99 646.55 L222.41 647.42 L222.84 648.24 L223.26 649.03 L223.69 649.79 L224.11 650.54 L224.54 651.27 L224.96 651.96 L225.39 652.60 L225.81 653.16 L226.24 653.62 L226.66 654.08 L227.09 654.50 L227.51 654.80 L227.94 654.90 L228.36 654.70 L228.79 654.26 L229.21 653.66 L229.64 653.02 L230.06 652.13 L230.48 650.95 L230.91 649.58 L231.33 648.12 L231.76 646.67 L232.18 645.33 L232.61 644.19 L233.03 643.10 L233.46 641.96 L233.88 640.80 L234.31 639.62 L234.73 638.44 L235.16 637.28 L235.58 636.15 L236.01 635.06 L236.43 634.03 L236.86 633.07 L237.28 632.20 L237.71 631.43 L238.13 630.79 L238.56 630.27 L238.98 629.90 L239.41 629.69 L239.83 629.66 L240.26 629.84 L240.68 630.20 L241.11 630.69 L241.53 631.28 L241.96 631.91 L242.38 632.54 L242.81 633.13 L243.23 633.63 L243.66 634.11 L244.08 634.60 L244.51 635.10 L244.93 635.61 L245.36 636.12 L245.78 636.62 L246.21 637.13 L246.63 637.63 L247.06 638.12 L247.48 638.60 L247.91 639.07 L248.33 639.52 L248.76 639.95 L249.18 640.36 L249.61 640.74 L250.03 641.09 L250.46 641.41 L250.88 641.71 L251.31 641.98 L251.73 642.23 L252.16 642.46 L252.58 642.68 L253.01 642.88 L253.43 643.07 L253.86 643.26 L254.28 643.43 L254.71 643.61 L255.13 643.78 L255.56 643.95 L255.98 644.13 L256.41 644.31 L256.83 644.50 L257.26 644.70 L257.68 644.91 L258.11 645.14 L258.53 645.38 L258.96 645.64 L259.38 645.93 L259.81 646.24 L260.23 646.59 L260.66 647.00 L261.08 647.46 L261.51 647.95 L261.93 648.48 L262.36 649.04 L262.78 649.62 L263.21 650.22 L263.63 650.83 L264.06 651.44 L264.48 652.06 L264.91 652.67 L265.33 653.26 L265.76 653.84 L266.18 654.40 L266.61 654.92 L267.03 655.41 L267.46 655.92 L267.88 656.46 L268.31 657.02 L268.73 657.60 L269.16 658.18 L269.58 658.76 L270.01 659.32 L270.43 659.87 L270.86 660.40 L271.28 660.89 L271.71 661.33 L272.13 661.73 L272.56 662.07 L272.98 662.34 L273.40 662.53 L273.83 662.65 L274.25 662.67 L274.68 662.66 L275.10 662.62 L275.53 662.57 L275.95 662.51 L276.38 662.43 L276.80 662.34 L277.23 662.24 L277.65 662.12 L278.08 662.00 L278.50 661.87 L278.93 661.73 L279.35 661.58 L279.78 661.43 L280.20 661.27 L280.63 661.12 L281.05 660.96 L281.48 660.80 L281.90 660.64 L282.33 660.48 L282.75 660.33 L283.18 660.18 L283.60 660.04 L284.03 659.91 L284.45 659.78 L284.88 659.66 L285.30 659.55 L285.73 659.45 L286.15 659.37 L286.58 659.30 L287.00 659.24 L287.43 659.20 L287.85 659.18 L288.28 659.17 L288.70 659.17 L289.13 659.17 L289.55 659.17 L289.98 659.17 L290.40 659.17 L290.83 659.17 L291.25 659.17 L291.68 659.17 L292.10 659.17 L292.53 659.17 L292.95 659.17 L293.38 659.17 L293.80 659.17 L294.23 659.17 L294.65 659.17 L295.08 659.17 L295.50 659.17 L295.93 659.17 L296.35 659.17 L296.78 659.17 L297.20 659.17 L297.63 659.17 L298.05 659.17 L298.48 659.17 L298.90 659.17 L299.33 659.11 L299.75 658.98 L300.18 658.79 L300.60 658.54 L301.03 658.24 L301.45 657.89 L301.88 657.51 L302.30 657.09 L302.73 656.65 L303.15 656.18 L303.58 655.70 L304.00 655.21 L304.43 654.72 L304.85 654.23 L305.28 653.75 L305.70 653.29 L306.13 652.85 L306.55 652.43 L306.98 652.05 L307.40 651.71 L307.83 651.42 L308.25 651.18 L308.68 650.99 L309.10 650.87 L309.53 650.82 L309.95 650.84 L310.38 650.90 L310.80 651.00 L311.23 651.15 L311.65 651.33 L312.08 651.55 L312.50 651.80 L312.93 652.08 L313.35 652.39 L313.78 652.72 L314.20 653.07 L314.63 653.44 L315.05 653.83 L315.47 654.23 L315.90 654.64 L316.32 655.06 L316.75 655.49 L317.17 655.91 L317.60 656.34 L318.02 656.76 L318.45 657.18 L318.87 657.59 L319.30 657.99 L319.72 658.37 L320.15 658.74 L320.57 659.08 L321.00 659.41 L321.42 659.71 L321.85 659.98 L322.27 660.23 L322.70 660.45 L323.12 660.67 L323.55 660.88 L323.97 661.08 L324.40 661.27 L324.82 661.45 L325.25 661.63 L325.67 661.81 L326.10 661.99 L326.52 662.16 L326.95 662.33 L327.37 662.51 L327.80 662.68 L328.22 662.86 L328.65 663.05 L329.07 663.24 L329.50 663.43 L329.92 663.64 L330.35 663.85 L330.77 664.08 L331.20 664.31 L331.62 664.57 L332.05 664.86 L332.47 665.17 L332.90 665.50 L333.32 665.85 L333.75 666.21 L334.17 666.60 L334.60 666.99 L335.02 667.40 L335.45 667.82 L335.87 668.24 L336.30 668.67 L336.72 669.11 L337.15 669.55 L337.57 669.98 L338.00 670.42 L338.42 670.85 L338.85 671.28 L339.27 671.70 L339.70 672.11 L340.12 672.51 L340.55 672.90 L340.97 673.27 L341.40 673.62 L341.82 673.96 L342.25 674.28 L342.67 674.57 L343.10 674.84 L343.52 675.08 L343.95 675.29 L344.37 675.48 L344.80 675.63 L345.22 675.75 L345.65 675.83 L346.07 675.87 L346.50 675.88 L346.92 675.86 L347.35 675.82 L347.77 675.75 L348.20 675.67 L348.62 675.57 L349.05 675.45 L349.47 675.32 L349.90 675.18 L350.32 675.03 L350.75 674.86 L351.17 674.69 L351.60 674.52 L352.02 674.33 L352.45 674.15 L352.87 673.96 L353.30 673.77 L353.72 673.58 L354.15 673.40 L354.57 673.22 L355.00 673.05 L355.42 672.88 L355.85 672.73 L356.27 672.58 L356.70 672.45 L357.12 672.33 L357.55 672.23 L357.97 672.14 L358.39 672.07 L358.82 672.03 L359.24 672.00 L359.67 672.00 L360.09 672.01 L360.52 672.03 L360.94 672.07 L361.37 672.11 L361.79 672.17 L362.22 672.23 L362.64 672.30 L363.07 672.38 L363.49 672.46 L363.92 672.54 L364.34 672.63 L364.77 672.72 L365.19 672.81 L365.62 672.90 L366.04 672.99 L366.47 673.07 L366.89 673.15 L367.32 673.23 L367.74 673.30 L368.17 673.37 L368.59 673.42 L369.02 673.47 L369.44 673.51 L369.87 673.53 L370.29 673.55 L370.72 673.54 L371.14 673.49 L371.57 673.39 L371.99 673.23 L372.42 673.03 L372.84 672.79 L373.27 672.50 L373.69 672.17 L374.12 671.81 L374.54 671.41 L374.97 670.99 L375.39 670.54 L375.82 670.06 L376.24 669.57 L376.67 669.05 L377.09 668.52 L377.52 667.98 L377.94 667.43 L378.37 666.87 L378.79 666.31 L379.22 665.75 L379.64 665.19 L380.07 664.64 L380.49 664.09 L380.92 663.56 L381.34 663.04 L381.77 662.53 L382.19 662.05 L382.62 661.59 L383.04 661.15 L383.47 660.74 L383.89 660.32 L384.32 659.89 L384.74 659.44 L385.17 658.98 L385.59 658.51 L386.02 658.04 L386.44 657.55 L386.87 657.07 L387.29 656.58 L387.72 656.09 L388.14 655.61 L388.57 655.13 L388.99 654.65 L389.42 654.18 L389.84 653.72 L390.27 653.28 L390.69 652.84 L391.12 652.42 L391.54 652.02 L391.97 651.63 L392.39 651.27 L392.82 650.93 L393.24 650.61 L393.67 650.32 L394.09 650.06 L394.52 649.82 L394.94 649.62 L395.37 649.45 L395.79 649.32 L396.22 649.22 L396.64 649.13 L397.07 649.04 L397.49 648.96 L397.92 648.87 L398.34 648.80 L398.77 648.72 L399.19 648.65 L399.62 648.59 L400.04 648.53 L400.46 648.47 L400.89 648.42 L401.31 648.38 L401.74 648.35 L402.16 648.32 L402.59 648.31 L403.01 648.30 L403.44 648.30 L403.86 648.32 L404.29 648.37 L404.71 648.43 L405.14 648.52 L405.56 648.62 L405.99 648.74 L406.41 648.88 L406.84 649.03 L407.26 649.20 L407.69 649.37 L408.11 649.56 L408.54 649.75 L408.96 649.96 L409.39 650.17 L409.81 650.38 L410.24 650.60 L410.66 650.82 L411.09 651.04 L411.51 651.27 L411.94 651.49 L412.36 651.71 L412.79 651.97 L413.21 652.28 L413.64 652.62 L414.06 652.99 L414.49 653.40 L414.91 653.82 L415.34 654.27 L415.76 654.74 L416.19 655.21 L416.61 655.70 L417.04 656.18 L417.46 656.67 L417.89 657.15 L418.31 657.62 L418.74 658.08 L419.16 658.51 L419.59 658.93 L420.01 659.32 L420.44 659.67 L420.86 660.00 L421.29 660.28 L421.71 660.52 L422.14 660.71 L422.56 660.84 L422.99 660.92 L423.41 660.97 L423.84 661.02 L424.26 661.07 L424.69 661.11 L425.11 661.16 L425.54 661.20 L425.96 661.24 L426.39 661.28 L426.81 661.31 L427.24 661.35 L427.66 661.38 L428.09 661.42 L428.51 661.45 L428.94 661.48 L429.36 661.50 L429.79 661.53 L430.21 661.55 L430.64 661.58 L431.06 661.60 L431.49 661.61 L431.91 661.63 L432.34 661.65 L432.76 661.66 L433.19 661.67 L433.61 661.68 L434.04 661.69 L434.46 661.69 L434.89 661.70 L435.31 661.70 L435.74 661.70 L436.16 661.67 L436.59 661.61 L437.01 661.53 L437.44 661.42 L437.86 661.29 L438.29 661.15 L438.71 660.98 L439.14 660.80 L439.56 660.61 L439.99 660.40 L440.41 660.18 L440.84 659.96 L441.26 659.72 L441.69 659.49 L442.11 659.25 L442.54 659.01 L442.96 658.77 L443.38 658.54 L443.81 658.31 L444.23 658.09 L444.66 657.87 L445.08 657.67 L445.51 657.48 L445.93 657.31 L446.36 657.15 L446.78 657.01 L447.21 656.89 L447.63 656.79 L448.06 656.72 L448.48 656.67 L448.91 656.65 L449.33 656.66 L449.76 656.69 L450.18 656.74 L450.61 656.82 L451.03 656.91 L451.46 657.03 L451.88 657.16 L452.31 657.31 L452.73 657.48 L453.16 657.66 L453.58 657.86 L454.01 658.07 L454.43 658.29 L454.86 658.53 L455.28 658.78 L455.71 659.04 L456.13 659.30 L456.56 659.58 L456.98 659.86 L457.41 660.15 L457.83 660.44 L458.26 660.74 L458.68 661.04 L459.11 661.35 L459.53 661.65 L459.96 661.96 L460.38 662.27 L460.81 662.57 L461.23 662.87 L461.66 663.17 L462.08 663.47 L462.51 663.76 L462.93 664.05 L463.36 664.33 L463.78 664.60 L464.21 664.86 L464.63 665.12 L465.06 665.36 L465.48 665.59 L465.91 665.81 L466.33 666.01 L466.76 666.21 L467.18 666.38 L467.61 666.54 L468.03 666.69 L468.46 666.81 L468.88 666.92 L469.31 667.01 L469.73 667.07 L470.16 667.12 L470.58 667.14 L471.01 667.14 L471.43 667.12 L471.86 667.10 L472.28 667.06 L472.71 667.01 L473.13 666.94 L473.56 666.87 L473.98 666.79 L474.41 666.69 L474.83 666.59 L475.26 666.47 L475.68 666.35 L476.11 666.22 L476.53 666.08 L476.96 665.93 L477.38 665.77 L477.81 665.61 L478.23 665.43 L478.66 665.26 L479.08 665.07 L479.51 664.88 L479.93 664.68 L480.36 664.48 L480.78 664.28 L481.21 664.06 L481.63 663.85 L482.06 663.63 L482.48 663.41 L482.91 663.18 L483.33 662.96 L483.76 662.72 L484.18 662.49 L484.61 662.26 L485.03 662.02 L485.45 661.79 L485.88 661.55 L486.30 661.32 L486.73 661.08 L487.15 660.85 L487.58 660.61 L488.00 660.38 L488.43 660.15 L488.85 659.92 L489.28 659.69 L489.70 659.47 L490.13 659.25 L490.55 659.03 L490.98 658.82 L491.40 658.61 L491.83 658.41 L492.25 658.21 L492.68 658.02 L493.10 657.83 L493.53 657.65 L493.95 657.47 L494.38 657.31 L494.80 657.15 L495.23 656.99 L495.65 656.85 L496.08 656.71 L496.50 656.59 L496.93 656.47 L497.35 656.36 L497.78 656.26 L498.20 656.17 L498.63 656.09 L499.05 656.03 L499.48 655.97 L499.90 655.93 L500.33 655.90 L500.75 655.88 L501.18 655.87 L501.60 655.88 L502.03 655.89 L502.45 655.91 L502.88 655.93 L503.30 655.97 L503.73 656.01 L504.15 656.05 L504.58 656.11 L505.00 656.16 L505.43 656.23 L505.85 656.30 L506.28 656.38 L506.70 656.46 L507.13 656.54 L507.55 656.64 L507.98 656.73 L508.40 656.83 L508.83 656.94 L509.25 657.05 L509.68 657.16 L510.10 657.28 L510.53 657.40 L510.95 657.52 L511.38 657.65 L511.80 657.78 L512.23 657.91 L512.65 658.05 L513.08 658.18 L513.50 658.32 L513.93 658.47 L514.35 658.61 L514.78 658.75 L515.20 658.90 L515.63 659.04 L516.05 659.19 L516.48 659.34 L516.90 659.49 L517.33 659.64 L517.75 659.79 L518.18 659.94 L518.60 660.08 L519.03 660.23 L519.45 660.38 L519.88 660.52 L520.30 660.67 L520.73 660.81 L521.15 660.95 L521.58 661.09 L522.00 661.23 L522.43 661.37 L522.85 661.50 L523.28 661.63 L523.70 661.76 L524.13 661.88 L524.55 662.01 L524.98 662.12 L525.40 662.24 L525.83 662.35 L526.25 662.45 L526.68 662.56 L527.10 662.66 L527.53 662.75 L527.95 662.84 L528.37 662.92 L528.80 663.00 L529.22 663.07 L529.65 663.14 L530.07 663.20 L530.50 663.25 L530.92 663.30 L531.35 663.34 L531.77 663.38 L532.20 663.41 L532.62 663.43 L533.05 663.44 L533.47 663.45 L533.90 663.45 L534.32 663.43 L534.75 663.40 L535.17 663.37 L535.60 663.32 L536.02 663.26 L536.45 663.18 L536.87 663.10 L537.30 663.01 L537.72 662.91 L538.15 662.80 L538.57 662.68 L539.00 662.55 L539.42 662.42 L539.85 662.27 L540.27 662.12 L540.70 661.97 L541.12 661.80 L541.55 661.63 L541.97 661.45 L542.40 661.27 L542.82 661.08 L543.25 660.89 L543.67 660.69 L544.10 660.49 L544.52 660.28 L544.95 660.07 L545.37 659.86 L545.80 659.64 L546.22 659.42 L546.65 659.20 L547.07 658.98 L547.50 658.75 L547.92 658.53 L548.35 658.30 L548.77 658.08 L549.20 657.85 L549.62 657.62 L550.05 657.40 L550.47 657.17 L550.90 656.95 L551.32 656.73 L551.75 656.51 L552.17 656.29 L552.60 656.07 L553.02 655.86 L553.45 655.65 L553.87 655.45 L554.30 655.25 L554.72 655.05 L555.15 654.86 L555.57 654.67 L556.00 654.49 L556.42 654.32 L556.85 654.15 L557.27 653.99 L557.70 653.83 L558.12 653.68 L558.55 653.54 L558.97 653.41 L559.40 653.29 L559.82 653.17 L560.25 653.07 L560.67 652.97 L561.10 652.88 L561.52 652.80 L561.95 652.74 L562.37 652.68 L562.80 652.63 L563.22 652.60 L563.65 652.58 L564.07 652.57 L564.50 652.57 L564.92 652.60 L565.35 652.64 L565.77 652.70 L566.20 652.78 L566.62 652.88 L567.05 653.00 L567.47 653.13 L567.90 653.27 L568.32 653.43 L568.75 653.61 L569.17 653.80 L569.60 654.00 L570.02 654.21 L570.44 654.44 L570.87 654.68 L571.29 654.93 L571.72 655.19 L572.14 655.46 L572.57 655.74 L572.99 656.02 L573.42 656.32 L573.84 656.62 L574.27 656.93 L574.69 657.24 L575.12 657.56 L575.54 657.89 L575.97 658.22 L576.39 658.55 L576.82 658.89 L577.24 659.23 L577.67 659.57 L578.09 659.91 L578.52 660.25 L578.94 660.60 L579.37 660.94 L579.79 661.28 L580.22 661.62 L580.64 661.96 L581.07 662.29 L581.49 662.62 L581.92 662.95 L582.34 663.27 L582.77 663.59 L583.19 663.90 L583.62 664.21 L584.04 664.51 L584.47 664.80 L584.89 665.08 L585.32 665.36 L585.74 665.62 L586.17 665.87 L586.59 666.12 L587.02 666.35 L587.44 666.57 L587.87 666.78 L588.29 666.98 L588.72 667.16 L589.14 667.33 L589.57 667.48 L589.99 667.62 L590.42 667.74 L590.84 667.85 L591.27 667.94 L591.69 668.01 L592.12 668.06 L592.54 668.10 L592.97 668.11 L593.39 668.11 L593.82 668.09 L594.24 668.06 L594.67 668.03 L595.09 667.98 L595.52 667.92 L595.94 667.85 L596.37 667.77 L596.79 667.69 L597.22 667.59 L597.64 667.49 L598.07 667.38 L598.49 667.26 L598.92 667.14 L599.34 667.01 L599.77 666.87 L600.19 666.73 L600.62 666.58 L601.04 666.43 L601.47 666.28 L601.89 666.12 L602.32 665.96 L602.74 665.79 L603.17 665.63 L603.59 665.46 L604.02 665.29 L604.44 665.12 L604.87 664.95 L605.29 664.78 L605.72 664.62 L606.14 664.45 L606.57 664.28 L606.99 664.12 L607.42 663.95 L607.84 663.79 L608.27 663.64 L608.69 663.49 L609.12 663.34 L609.54 663.19 L609.97 663.06 L610.39 662.92 L610.82 662.80 L611.24 662.68 L611.67 662.56 L612.09 662.46 L612.52 662.36 L612.94 662.27 L613.36 662.19 L613.79 662.11 L614.21 662.05 L614.64 662.00 L615.06 661.95 L615.49 661.92 L615.91 661.90 L616.34 661.89 L616.76 661.90 L617.19 661.91 L617.61 661.93 L618.04 661.96 L618.46 662.00 L618.89 662.05 L619.31 662.10 L619.74 662.17 L620.16 662.24 L620.59 662.31 L621.01 662.39 L621.44 662.48 L621.86 662.57 L622.29 662.67 L622.71 662.77 L623.14 662.88 L623.56 662.99 L623.99 663.10 L624.41 663.21 L624.84 663.33 L625.26 663.45 L625.69 663.57 L626.11 663.70 L626.54 663.82 L626.96 663.94 L627.39 664.07 L627.81 664.19 L628.24 664.31 L628.66 664.43 L629.09 664.55 L629.51 664.67 L629.94 664.78 L630.36 664.90 L630.79 665.01 L631.21 665.11 L631.64 665.21 L632.06 665.31 L632.49 665.40 L632.91 665.49 L633.34 665.57 L633.76 665.64 L634.19 665.71 L634.61 665.77 L635.04 665.83 L635.46 665.87 L635.89 665.91 L636.31 665.94 L636.74 665.96 L637.16 665.97 L637.59 665.97 L638.01 665.95 L638.44 665.92 L638.86 665.86 L639.29 665.78 L639.71 665.68 L640.14 665.56 L640.56 665.43 L640.99 665.28 L641.41 665.11 L641.84 664.93 L642.26 664.74 L642.69 664.53 L643.11 664.31 L643.54 664.07 L643.96 663.83 L644.39 663.57 L644.81 663.31 L645.24 663.03 L645.66 662.75 L646.09 662.45 L646.51 662.16 L646.94 661.85 L647.36 661.54 L647.79 661.22 L648.21 660.90 L648.64 660.58 L649.06 660.25 L649.49 659.93 L649.91 659.60 L650.34 659.27 L650.76 658.94 L651.19 658.61 L651.61 658.28 L652.04 657.96 L652.46 657.64 L652.89 657.32 L653.31 657.00 L653.74 656.70 L654.16 656.40 L654.59 656.10 L655.01 655.81 L655.43 655.53 L655.86 655.27 L656.28 655.00 L656.71 654.76 L657.13 654.52 L657.56 654.29 L657.98 654.08 L658.41 653.88 L658.83 653.69 L659.26 653.52 L659.68 653.36 L660.11 653.22 L660.53 653.10 L660.96 653.00 L661.38 652.91 L661.81 652.84 L662.23 652.80 L662.66 652.77 L663.08 652.76 L663.51 652.77 L663.93 652.77 L664.36 652.77 L664.78 652.78 L665.21 652.79 L665.63 652.80 L666.06 652.82 L666.48 652.83 L666.91 652.85 L667.33 652.87 L667.76 652.88 L668.18 652.91 L668.61 652.93 L669.03 652.95 L669.46 652.97 L669.88 653.00 L670.31 653.02 L670.73 653.05 L671.16 653.08 L671.58 653.11 L672.01 653.14 L672.43 653.17 L672.86 653.20 L673.28 653.23 L673.71 653.26 L674.13 653.29 L674.56 653.32 L674.98 653.35 L675.41 653.38 L675.83 653.41 L676.26 653.44 L676.68 653.47 L677.11 653.50 L677.53 653.53 L677.96 653.56 L678.38 653.59 L678.81 653.62 L679.23 653.65 L679.66 653.67 L680.08 653.70 L680.51 653.72 L680.93 653.75 L681.36 653.77 L681.78 653.79 L682.21 653.81 L682.63 653.83 L683.06 653.85 L683.48 653.86 L683.91 653.88 L684.33 653.89 L684.76 653.90 L685.18 653.91 L685.61 653.92 L686.03 653.92 L686.46 653.93 L686.88 653.93 L687.31 653.93 L687.73 653.92 L688.16 653.90 L688.58 653.87 L689.01 653.84 L689.43 653.81 L689.86 653.76 L690.28 653.72 L690.71 653.66 L691.13 653.60 L691.56 653.54 L691.98 653.47 L692.41 653.40 L692.83 653.32 L693.26 653.23 L693.68 653.15 L694.11 653.06 L694.53 652.97 L694.96 652.87 L695.38 652.77 L695.81 652.67 L696.23 652.56 L696.66 652.46 L697.08 652.35 L697.51 652.24 L697.93 652.12 L698.35 652.01 L698.78 651.90 L699.20 651.78 L699.63 651.66 L700.05 651.55 L700.48 651.43 L700.90 651.32 L701.33 651.20 L701.75 651.08 L702.18 650.97 L702.60 650.86 L703.03 650.74 L703.45 650.63 L703.88 650.52 L704.30 650.39 L704.73 650.26 L705.15 650.12 L705.58 649.96 L706.00 649.80 L706.43 649.64 L706.85 649.46 L707.28 649.28 L707.70 649.09 L708.13 648.90 L708.55 648.70 L708.98 648.50 L709.40 648.29 L709.83 648.08 L710.25 647.87 L710.68 647.65 L711.10 647.44 L711.53 647.22 L711.95 647.00 L712.38 646.78 L712.80 646.56 L713.23 646.34 L713.65 646.13 L714.08 645.91 L714.50 645.70 L714.93 645.49 L715.35 645.28 L715.78 645.08 L716.20 644.88 L716.63 644.69 L717.05 644.50 L717.48 644.32 L717.90 644.14 L718.33 643.98 L718.75 643.82 L719.18 643.66 L719.60 643.52 L720.03 643.39 L720.45 643.26 L720.88 643.15 L721.30 643.04 L721.73 642.95 L722.15 642.87 L722.58 642.80 L723.00 642.75 L723.43 642.70 L723.85 642.68 L724.28 642.66 L724.70 642.66 L725.13 642.66 L725.55 642.67 L725.98 642.67 L726.40 642.68 L726.83 642.69 L727.25 642.71 L727.68 642.72 L728.10 642.74 L728.53 642.76 L728.95 642.79 L729.38 642.81 L729.80 642.85 L730.23 642.88 L730.65 642.92 L731.08 642.96 L731.50 643.01 L731.93 643.06 L732.35 643.11 L732.78 643.17 L733.20 643.24 L733.63 643.31 L734.05 643.38 L734.48 643.46 L734.90 643.54 L735.33 643.63 L735.75 643.72 L736.18 643.82 L736.60 643.93 L737.03 644.04 L737.45 644.16 L737.88 644.28 L738.30 644.41 L738.73 644.55 L739.15 644.69 L739.58 644.84 L740.00 644.99" fill="none" stroke="#0072BD" stroke-width="4.0" stroke-linejoin="round" stroke-linecap="round"/>
<path d="M103.00 649.27 L103.42 649.27 L103.85 649.27 L104.27 649.27 L104.70 649.27 L105.12 649.27 L105.55 649.27 L105.97 649.27 L106.40 649.27 L106.82 649.27 L107.25 649.27 L107.67 649.27 L108.10 649.27 L108.52 649.27 L108.95 649.27 L109.37 649.27 L109.80 649.27 L110.22 649.27 L110.65 649.27 L111.07 649.27 L111.50 649.27 L111.92 649.27 L112.35 649.27 L112.77 649.27 L113.20 649.27 L113.62 649.27 L114.05 649.27 L114.47 649.27 L114.90 649.27 L115.32 649.27 L115.75 649.27 L116.17 649.27 L116.60 649.27 L117.02 649.27 L117.45 649.27 L117.87 649.27 L118.30 649.27 L118.72 649.27 L119.15 649.27 L119.57 649.27 L120.00 649.27 L120.42 649.27 L120.85 649.27 L121.27 649.27 L121.70 649.27 L122.12 649.27 L122.55 649.27 L122.97 649.27 L123.40 649.27 L123.82 649.27 L124.25 649.27 L124.67 649.27 L125.10 649.27 L125.52 649.27 L125.95 649.27 L126.37 649.27 L126.80 649.27 L127.22 649.27 L127.65 649.27 L128.07 649.27 L128.50 649.27 L128.92 649.27 L129.35 649.27 L129.77 649.27 L130.20 649.27 L130.62 649.27 L131.05 649.27 L131.47 649.27 L131.90 649.27 L132.32 649.27 L132.75 649.27 L133.17 649.27 L133.60 649.27 L134.02 649.27 L134.45 649.27 L134.87 649.27 L135.30 649.27 L135.72 649.27 L136.15 649.27 L136.57 649.27 L137.00 649.27 L137.42 649.27 L137.85 649.27 L138.27 649.27 L138.70 649.27 L139.12 649.27 L139.55 649.27 L139.97 649.27 L140.40 649.27 L140.82 649.27 L141.25 649.27 L141.67 649.27 L142.10 649.27 L142.52 649.27 L142.95 649.27 L143.37 649.27 L143.80 649.27 L144.22 649.27 L144.65 649.27 L145.07 649.27 L145.49 649.27 L145.92 649.27 L146.34 649.27 L146.77 649.27 L147.19 649.27 L147.62 649.27 L148.04 649.27 L148.47 649.27 L148.89 649.27 L149.32 649.27 L149.74 649.27 L150.17 649.27 L150.59 649.27 L151.02 649.27 L151.44 649.27 L151.87 649.27 L152.29 649.27 L152.72 649.27 L153.14 649.27 L153.57 649.27 L153.99 649.27 L154.42 649.27 L154.84 649.27 L155.27 649.27 L155.69 649.27 L156.12 649.27 L156.54 649.27 L156.97 649.27 L157.39 649.27 L157.82 649.27 L158.24 649.27 L158.67 649.27 L159.09 649.27 L159.52 649.27 L159.94 649.27 L160.37 649.27 L160.79 649.27 L161.22 649.27 L161.64 649.27 L162.07 649.27 L162.49 649.27 L162.92 649.27 L163.34 649.27 L163.77 649.27 L164.19 649.27 L164.62 649.27 L165.04 649.27 L165.47 649.27 L165.89 649.27 L166.32 649.27 L166.74 649.27 L167.17 649.27 L167.59 649.27 L168.02 649.27 L168.44 649.27 L168.87 649.27 L169.29 649.27 L169.72 649.27 L170.14 649.27 L170.57 649.27 L170.99 649.27 L171.42 649.26 L171.84 649.26 L172.27 649.24 L172.69 649.23 L173.12 649.21 L173.54 649.18 L173.97 649.15 L174.39 649.11 L174.82 649.06 L175.24 649.01 L175.67 648.96 L176.09 648.90 L176.52 648.83 L176.94 648.76 L177.37 648.67 L177.79 648.47 L178.22 648.11 L178.64 647.60 L179.07 646.97 L179.49 646.26 L179.92 645.24 L180.34 643.80 L180.77 641.96 L181.19 639.75 L181.62 637.19 L182.04 634.32 L182.47 630.49 L182.89 625.42 L183.32 619.22 L183.74 612.03 L184.17 603.99 L184.59 594.01 L185.02 580.62 L185.44 566.95 L185.87 553.31 L186.29 539.78 L186.72 527.74 L187.14 517.01 L187.57 506.82 L187.99 496.09 L188.41 484.75 L188.84 474.54 L189.26 467.26 L189.69 462.86 L190.11 459.06 L190.54 456.28 L190.96 455.03 L191.39 455.19 L191.81 455.86 L192.24 456.95 L192.66 458.39 L193.09 460.12 L193.51 462.07 L193.94 464.17 L194.36 466.34 L194.79 469.02 L195.21 472.67 L195.64 477.05 L196.06 481.94 L196.49 487.11 L196.91 492.33 L197.34 497.36 L197.76 501.99 L198.19 506.26 L198.61 510.46 L199.04 514.60 L199.46 518.72 L199.89 522.82 L200.31 526.92 L200.74 531.06 L201.16 535.23 L201.59 539.50 L202.01 543.86 L202.44 548.28 L202.86 552.68 L203.29 557.03 L203.71 561.28 L204.14 565.37 L204.56 569.25 L204.99 573.08 L205.41 576.90 L205.84 580.66 L206.26 584.30 L206.69 587.75 L207.11 590.96 L207.54 593.88 L207.96 596.43 L208.39 598.77 L208.81 600.98 L209.24 603.08 L209.66 605.06 L210.09 606.93 L210.51 608.70 L210.94 610.38 L211.36 611.96 L211.79 613.46 L212.21 614.88 L212.64 616.22 L213.06 617.48 L213.49 618.67 L213.91 619.80 L214.34 620.87 L214.76 621.89 L215.19 622.89 L215.61 623.86 L216.04 624.81 L216.46 625.77 L216.89 626.73 L217.31 627.71 L217.74 628.72 L218.16 629.76 L218.59 630.82 L219.01 631.88 L219.44 632.95 L219.86 634.02 L220.29 635.09 L220.71 636.15 L221.14 637.21 L221.56 638.26 L221.99 639.29 L222.41 640.31 L222.84 641.30 L223.26 642.28 L223.69 643.23 L224.11 644.16 L224.54 645.08 L224.96 645.99 L225.39 646.88 L225.81 647.77 L226.24 648.64 L226.66 649.50 L227.09 650.35 L227.51 651.19 L227.94 652.02 L228.36 652.84 L228.79 653.65 L229.21 654.45 L229.64 655.25 L230.06 656.04 L230.48 656.85 L230.91 657.66 L231.33 658.49 L231.76 659.31 L232.18 660.13 L232.61 660.93 L233.03 661.71 L233.46 662.47 L233.88 663.19 L234.31 663.87 L234.73 664.50 L235.16 665.09 L235.58 665.61 L236.01 666.06 L236.43 666.49 L236.86 666.92 L237.28 667.33 L237.71 667.74 L238.13 668.14 L238.56 668.53 L238.98 668.91 L239.41 669.28 L239.83 669.64 L240.26 669.99 L240.68 670.34 L241.11 670.67 L241.53 670.98 L241.96 671.29 L242.38 671.59 L242.81 671.87 L243.23 672.14 L243.66 672.39 L244.08 672.64 L244.51 672.87 L244.93 673.08 L245.36 673.28 L245.78 673.47 L246.21 673.64 L246.63 673.79 L247.06 673.93 L247.48 674.05 L247.91 674.16 L248.33 674.25 L248.76 674.35 L249.18 674.45 L249.61 674.54 L250.03 674.64 L250.46 674.73 L250.88 674.81 L251.31 674.90 L251.73 674.98 L252.16 675.06 L252.58 675.14 L253.01 675.21 L253.43 675.29 L253.86 675.35 L254.28 675.42 L254.71 675.48 L255.13 675.54 L255.56 675.59 L255.98 675.64 L256.41 675.68 L256.83 675.73 L257.26 675.76 L257.68 675.79 L258.11 675.82 L258.53 675.84 L258.96 675.86 L259.38 675.87 L259.81 675.88 L260.23 675.88 L260.66 675.88 L261.08 675.87 L261.51 675.85 L261.93 675.83 L262.36 675.80 L262.78 675.76 L263.21 675.73 L263.63 675.68 L264.06 675.64 L264.48 675.58 L264.91 675.53 L265.33 675.47 L265.76 675.41 L266.18 675.34 L266.61 675.28 L267.03 675.21 L267.46 675.14 L267.88 675.06 L268.31 674.99 L268.73 674.91 L269.16 674.83 L269.58 674.75 L270.01 674.68 L270.43 674.60 L270.86 674.52 L271.28 674.44 L271.71 674.36 L272.13 674.28 L272.56 674.21 L272.98 674.13 L273.40 674.06 L273.83 673.99 L274.25 673.92 L274.68 673.85 L275.10 673.78 L275.53 673.71 L275.95 673.64 L276.38 673.56 L276.80 673.49 L277.23 673.41 L277.65 673.33 L278.08 673.26 L278.50 673.18 L278.93 673.10 L279.35 673.02 L279.78 672.93 L280.20 672.85 L280.63 672.77 L281.05 672.68 L281.48 672.60 L281.90 672.51 L282.33 672.43 L282.75 672.34 L283.18 672.25 L283.60 672.16 L284.03 672.07 L284.45 671.98 L284.88 671.89 L285.30 671.80 L285.73 671.71 L286.15 671.62 L286.58 671.53 L287.00 671.44 L287.43 671.35 L287.85 671.25 L288.28 671.16 L288.70 671.07 L289.13 670.98 L289.55 670.88 L289.98 670.79 L290.40 670.70 L290.83 670.60 L291.25 670.51 L291.68 670.42 L292.10 670.32 L292.53 670.23 L292.95 670.14 L293.38 670.04 L293.80 669.95 L294.23 669.86 L294.65 669.77 L295.08 669.68 L295.50 669.58 L295.93 669.49 L296.35 669.40 L296.78 669.31 L297.20 669.22 L297.63 669.13 L298.05 669.04 L298.48 668.96 L298.90 668.87 L299.33 668.78 L299.75 668.70 L300.18 668.61 L300.60 668.53 L301.03 668.44 L301.45 668.36 L301.88 668.28 L302.30 668.19 L302.73 668.11 L303.15 668.03 L303.58 667.96 L304.00 667.88 L304.43 667.80 L304.85 667.73 L305.28 667.65 L305.70 667.58 L306.13 667.50 L306.55 667.43 L306.98 667.36 L307.40 667.29 L307.83 667.22 L308.25 667.15 L308.68 667.08 L309.10 667.00 L309.53 666.93 L309.95 666.86 L310.38 666.79 L310.80 666.72 L311.23 666.65 L311.65 666.58 L312.08 666.51 L312.50 666.44 L312.93 666.37 L313.35 666.30 L313.78 666.24 L314.20 666.17 L314.63 666.10 L315.05 666.03 L315.47 665.96 L315.90 665.89 L316.32 665.83 L316.75 665.76 L317.17 665.69 L317.60 665.63 L318.02 665.56 L318.45 665.49 L318.87 665.43 L319.30 665.36 L319.72 665.30 L320.15 665.23 L320.57 665.17 L321.00 665.10 L321.42 665.04 L321.85 664.98 L322.27 664.91 L322.70 664.85 L323.12 664.79 L323.55 664.73 L323.97 664.66 L324.40 664.60 L324.82 664.54 L325.25 664.48 L325.67 664.42 L326.10 664.36 L326.52 664.30 L326.95 664.24 L327.37 664.18 L327.80 664.12 L328.22 664.06 L328.65 664.01 L329.07 663.95 L329.50 663.89 L329.92 663.84 L330.35 663.78 L330.77 663.72 L331.20 663.67 L331.62 663.61 L332.05 663.56 L332.47 663.51 L332.90 663.45 L333.32 663.40 L333.75 663.35 L334.17 663.29 L334.60 663.24 L335.02 663.19 L335.45 663.14 L335.87 663.09 L336.30 663.04 L336.72 662.99 L337.15 662.94 L337.57 662.90 L338.00 662.85 L338.42 662.80 L338.85 662.75 L339.27 662.71 L339.70 662.66 L340.12 662.61 L340.55 662.57 L340.97 662.52 L341.40 662.48 L341.82 662.43 L342.25 662.39 L342.67 662.34 L343.10 662.30 L343.52 662.25 L343.95 662.21 L344.37 662.17 L344.80 662.12 L345.22 662.08 L345.65 662.04 L346.07 662.00 L346.50 661.95 L346.92 661.91 L347.35 661.87 L347.77 661.83 L348.20 661.79 L348.62 661.74 L349.05 661.70 L349.47 661.66 L349.90 661.62 L350.32 661.58 L350.75 661.54 L351.17 661.50 L351.60 661.46 L352.02 661.42 L352.45 661.39 L352.87 661.35 L353.30 661.31 L353.72 661.27 L354.15 661.23 L354.57 661.19 L355.00 661.16 L355.42 661.12 L355.85 661.08 L356.27 661.04 L356.70 661.01 L357.12 660.97 L357.55 660.94 L357.97 660.90 L358.39 660.86 L358.82 660.83 L359.24 660.79 L359.67 660.76 L360.09 660.72 L360.52 660.69 L360.94 660.65 L361.37 660.62 L361.79 660.58 L362.22 660.55 L362.64 660.52 L363.07 660.48 L363.49 660.45 L363.92 660.41 L364.34 660.38 L364.77 660.35 L365.19 660.32 L365.62 660.28 L366.04 660.25 L366.47 660.22 L366.89 660.19 L367.32 660.16 L367.74 660.12 L368.17 660.09 L368.59 660.06 L369.02 660.03 L369.44 660.00 L369.87 659.97 L370.29 659.94 L370.72 659.91 L371.14 659.88 L371.57 659.85 L371.99 659.82 L372.42 659.79 L372.84 659.76 L373.27 659.73 L373.69 659.70 L374.12 659.67 L374.54 659.64 L374.97 659.62 L375.39 659.59 L375.82 659.56 L376.24 659.53 L376.67 659.50 L377.09 659.48 L377.52 659.45 L377.94 659.42 L378.37 659.39 L378.79 659.37 L379.22 659.34 L379.64 659.31 L380.07 659.29 L380.49 659.26 L380.92 659.23 L381.34 659.21 L381.77 659.18 L382.19 659.16 L382.62 659.13 L383.04 659.10 L383.47 659.08 L383.89 659.05 L384.32 659.03 L384.74 659.00 L385.17 658.98 L385.59 658.95 L386.02 658.93 L386.44 658.90 L386.87 658.88 L387.29 658.85 L387.72 658.83 L388.14 658.80 L388.57 658.78 L388.99 658.76 L389.42 658.73 L389.84 658.71 L390.27 658.68 L390.69 658.66 L391.12 658.64 L391.54 658.61 L391.97 658.59 L392.39 658.57 L392.82 658.54 L393.24 658.52 L393.67 658.50 L394.09 658.47 L394.52 658.45 L394.94 658.43 L395.37 658.40 L395.79 658.38 L396.22 658.36 L396.64 658.34 L397.07 658.31 L397.49 658.29 L397.92 658.27 L398.34 658.24 L398.77 658.22 L399.19 658.20 L399.62 658.18 L400.04 658.15 L400.46 658.13 L400.89 658.11 L401.31 658.09 L401.74 658.07 L402.16 658.04 L402.59 658.02 L403.01 658.00 L403.44 657.98 L403.86 657.95 L404.29 657.93 L404.71 657.91 L405.14 657.89 L405.56 657.87 L405.99 657.85 L406.41 657.83 L406.84 657.81 L407.26 657.79 L407.69 657.77 L408.11 657.75 L408.54 657.73 L408.96 657.71 L409.39 657.69 L409.81 657.67 L410.24 657.65 L410.66 657.63 L411.09 657.61 L411.51 657.59 L411.94 657.57 L412.36 657.55 L412.79 657.53 L413.21 657.51 L413.64 657.49 L414.06 657.47 L414.49 657.46 L414.91 657.44 L415.34 657.42 L415.76 657.40 L416.19 657.38 L416.61 657.36 L417.04 657.34 L417.46 657.33 L417.89 657.31 L418.31 657.29 L418.74 657.27 L419.16 657.25 L419.59 657.23 L420.01 657.22 L420.44 657.20 L420.86 657.18 L421.29 657.16 L421.71 657.14 L422.14 657.12 L422.56 657.10 L422.99 657.09 L423.41 657.07 L423.84 657.05 L424.26 657.03 L424.69 657.01 L425.11 656.99 L425.54 656.97 L425.96 656.95 L426.39 656.93 L426.81 656.91 L427.24 656.89 L427.66 656.87 L428.09 656.85 L428.51 656.83 L428.94 656.81 L429.36 656.79 L429.79 656.77 L430.21 656.75 L430.64 656.73 L431.06 656.71 L431.49 656.69 L431.91 656.67 L432.34 656.65 L432.76 656.62 L433.19 656.60 L433.61 656.58 L434.04 656.56 L434.46 656.53 L434.89 656.51 L435.31 656.49 L435.74 656.47 L436.16 656.44 L436.59 656.42 L437.01 656.39 L437.44 656.37 L437.86 656.34 L438.29 656.32 L438.71 656.29 L439.14 656.26 L439.56 656.24 L439.99 656.21 L440.41 656.18 L440.84 656.15 L441.26 656.12 L441.69 656.09 L442.11 656.06 L442.54 656.03 L442.96 656.00 L443.38 655.97 L443.81 655.94 L444.23 655.91 L444.66 655.88 L445.08 655.85 L445.51 655.82 L445.93 655.78 L446.36 655.75 L446.78 655.72 L447.21 655.69 L447.63 655.65 L448.06 655.62 L448.48 655.59 L448.91 655.56 L449.33 655.52 L449.76 655.49 L450.18 655.46 L450.61 655.43 L451.03 655.39 L451.46 655.36 L451.88 655.33 L452.31 655.29 L452.73 655.26 L453.16 655.23 L453.58 655.20 L454.01 655.17 L454.43 655.13 L454.86 655.10 L455.28 655.07 L455.71 655.04 L456.13 655.01 L456.56 654.98 L456.98 654.95 L457.41 654.92 L457.83 654.89 L458.26 654.86 L458.68 654.83 L459.11 654.80 L459.53 654.77 L459.96 654.74 L460.38 654.72 L460.81 654.69 L461.23 654.66 L461.66 654.64 L462.08 654.61 L462.51 654.58 L462.93 654.56 L463.36 654.54 L463.78 654.51 L464.21 654.49 L464.63 654.47 L465.06 654.44 L465.48 654.42 L465.91 654.40 L466.33 654.38 L466.76 654.36 L467.18 654.34 L467.61 654.33 L468.03 654.31 L468.46 654.29 L468.88 654.27 L469.31 654.26 L469.73 654.24 L470.16 654.22 L470.58 654.21 L471.01 654.19 L471.43 654.18 L471.86 654.16 L472.28 654.15 L472.71 654.13 L473.13 654.12 L473.56 654.10 L473.98 654.09 L474.41 654.07 L474.83 654.06 L475.26 654.05 L475.68 654.03 L476.11 654.02 L476.53 654.01 L476.96 653.99 L477.38 653.98 L477.81 653.97 L478.23 653.95 L478.66 653.94 L479.08 653.93 L479.51 653.92 L479.93 653.91 L480.36 653.89 L480.78 653.88 L481.21 653.87 L481.63 653.86 L482.06 653.85 L482.48 653.83 L482.91 653.82 L483.33 653.81 L483.76 653.80 L484.18 653.79 L484.61 653.78 L485.03 653.77 L485.45 653.75 L485.88 653.74 L486.30 653.73 L486.73 653.72 L487.15 653.71 L487.58 653.70 L488.00 653.69 L488.43 653.68 L488.85 653.67 L489.28 653.66 L489.70 653.65 L490.13 653.64 L490.55 653.62 L490.98 653.61 L491.40 653.60 L491.83 653.59 L492.25 653.58 L492.68 653.57 L493.10 653.56 L493.53 653.55 L493.95 653.54 L494.38 653.53 L494.80 653.51 L495.23 653.50 L495.65 653.49 L496.08 653.48 L496.50 653.47 L496.93 653.46 L497.35 653.45 L497.78 653.44 L498.20 653.42 L498.63 653.41 L499.05 653.40 L499.48 653.39 L499.90 653.38 L500.33 653.36 L500.75 653.35 L501.18 653.34 L501.60 653.33 L502.03 653.31 L502.45 653.30 L502.88 653.29 L503.30 653.28 L503.73 653.26 L504.15 653.25 L504.58 653.24 L505.00 653.23 L505.43 653.21 L505.85 653.20 L506.28 653.19 L506.70 653.18 L507.13 653.16 L507.55 653.15 L507.98 653.14 L508.40 653.13 L508.83 653.12 L509.25 653.10 L509.68 653.09 L510.10 653.08 L510.53 653.07 L510.95 653.05 L511.38 653.04 L511.80 653.03 L512.23 653.02 L512.65 653.00 L513.08 652.99 L513.50 652.98 L513.93 652.97 L514.35 652.95 L514.78 652.94 L515.20 652.93 L515.63 652.92 L516.05 652.90 L516.48 652.89 L516.90 652.88 L517.33 652.87 L517.75 652.85 L518.18 652.84 L518.60 652.83 L519.03 652.82 L519.45 652.81 L519.88 652.79 L520.30 652.78 L520.73 652.77 L521.15 652.76 L521.58 652.74 L522.00 652.73 L522.43 652.72 L522.85 652.71 L523.28 652.69 L523.70 652.68 L524.13 652.67 L524.55 652.66 L524.98 652.64 L525.40 652.63 L525.83 652.62 L526.25 652.61 L526.68 652.59 L527.10 652.58 L527.53 652.57 L527.95 652.56 L528.37 652.54 L528.80 652.53 L529.22 652.52 L529.65 652.51 L530.07 652.49 L530.50 652.48 L530.92 652.47 L531.35 652.46 L531.77 652.44 L532.20 652.43 L532.62 652.42 L533.05 652.40 L533.47 652.39 L533.90 652.38 L534.32 652.37 L534.75 652.35 L535.17 652.34 L535.60 652.33 L536.02 652.32 L536.45 652.30 L536.87 652.29 L537.30 652.28 L537.72 652.26 L538.15 652.25 L538.57 652.24 L539.00 652.23 L539.42 652.21 L539.85 652.20 L540.27 652.19 L540.70 652.17 L541.12 652.16 L541.55 652.15 L541.97 652.14 L542.40 652.12 L542.82 652.11 L543.25 652.10 L543.67 652.08 L544.10 652.07 L544.52 652.06 L544.95 652.04 L545.37 652.03 L545.80 652.02 L546.22 652.01 L546.65 651.99 L547.07 651.98 L547.50 651.97 L547.92 651.95 L548.35 651.94 L548.77 651.93 L549.20 651.91 L549.62 651.90 L550.05 651.89 L550.47 651.88 L550.90 651.86 L551.32 651.85 L551.75 651.84 L552.17 651.82 L552.60 651.81 L553.02 651.80 L553.45 651.78 L553.87 651.77 L554.30 651.76 L554.72 651.74 L555.15 651.73 L555.57 651.72 L556.00 651.71 L556.42 651.69 L556.85 651.68 L557.27 651.67 L557.70 651.65 L558.12 651.64 L558.55 651.63 L558.97 651.61 L559.40 651.60 L559.82 651.59 L560.25 651.58 L560.67 651.56 L561.10 651.55 L561.52 651.54 L561.95 651.52 L562.37 651.51 L562.80 651.50 L563.22 651.48 L563.65 651.47 L564.07 651.46 L564.50 651.45 L564.92 651.43 L565.35 651.42 L565.77 651.41 L566.20 651.39 L566.62 651.38 L567.05 651.37 L567.47 651.36 L567.90 651.34 L568.32 651.33 L568.75 651.32 L569.17 651.30 L569.60 651.29 L570.02 651.28 L570.44 651.26 L570.87 651.25 L571.29 651.24 L571.72 651.22 L572.14 651.21 L572.57 651.20 L572.99 651.18 L573.42 651.17 L573.84 651.16 L574.27 651.14 L574.69 651.13 L575.12 651.12 L575.54 651.10 L575.97 651.09 L576.39 651.07 L576.82 651.06 L577.24 651.05 L577.67 651.03 L578.09 651.02 L578.52 651.01 L578.94 650.99 L579.37 650.98 L579.79 650.97 L580.22 650.95 L580.64 650.94 L581.07 650.93 L581.49 650.91 L581.92 650.90 L582.34 650.89 L582.77 650.87 L583.19 650.86 L583.62 650.85 L584.04 650.83 L584.47 650.82 L584.89 650.81 L585.32 650.79 L585.74 650.78 L586.17 650.77 L586.59 650.76 L587.02 650.74 L587.44 650.73 L587.87 650.72 L588.29 650.70 L588.72 650.69 L589.14 650.68 L589.57 650.67 L589.99 650.65 L590.42 650.64 L590.84 650.63 L591.27 650.62 L591.69 650.61 L592.12 650.59 L592.54 650.58 L592.97 650.57 L593.39 650.56 L593.82 650.55 L594.24 650.53 L594.67 650.52 L595.09 650.51 L595.52 650.50 L595.94 650.49 L596.37 650.48 L596.79 650.47 L597.22 650.46 L597.64 650.45 L598.07 650.43 L598.49 650.42 L598.92 650.41 L599.34 650.40 L599.77 650.39 L600.19 650.38 L600.62 650.37 L601.04 650.36 L601.47 650.35 L601.89 650.34 L602.32 650.33 L602.74 650.32 L603.17 650.31 L603.59 650.30 L604.02 650.29 L604.44 650.28 L604.87 650.27 L605.29 650.26 L605.72 650.25 L606.14 650.24 L606.57 650.23 L606.99 650.22 L607.42 650.21 L607.84 650.20 L608.27 650.19 L608.69 650.18 L609.12 650.17 L609.54 650.16 L609.97 650.15 L610.39 650.14 L610.82 650.14 L611.24 650.13 L611.67 650.12 L612.09 650.11 L612.52 650.10 L612.94 650.09 L613.36 650.08 L613.79 650.07 L614.21 650.06 L614.64 650.05 L615.06 650.04 L615.49 650.04 L615.91 650.03 L616.34 650.02 L616.76 650.01 L617.19 650.00 L617.61 649.99 L618.04 649.98 L618.46 649.98 L618.89 649.97 L619.31 649.96 L619.74 649.95 L620.16 649.94 L620.59 649.94 L621.01 649.93 L621.44 649.92 L621.86 649.91 L622.29 649.90 L622.71 649.90 L623.14 649.89 L623.56 649.88 L623.99 649.87 L624.41 649.87 L624.84 649.86 L625.26 649.85 L625.69 649.84 L626.11 649.84 L626.54 649.83 L626.96 649.82 L627.39 649.81 L627.81 649.81 L628.24 649.80 L628.66 649.79 L629.09 649.79 L629.51 649.78 L629.94 649.77 L630.36 649.77 L630.79 649.76 L631.21 649.75 L631.64 649.75 L632.06 649.74 L632.49 649.73 L632.91 649.73 L633.34 649.72 L633.76 649.71 L634.19 649.71 L634.61 649.70 L635.04 649.69 L635.46 649.69 L635.89 649.68 L636.31 649.67 L636.74 649.67 L637.16 649.66 L637.59 649.65 L638.01 649.65 L638.44 649.64 L638.86 649.64 L639.29 649.63 L639.71 649.62 L640.14 649.62 L640.56 649.61 L640.99 649.61 L641.41 649.60 L641.84 649.59 L642.26 649.59 L642.69 649.58 L643.11 649.58 L643.54 649.57 L643.96 649.56 L644.39 649.56 L644.81 649.55 L645.24 649.55 L645.66 649.54 L646.09 649.54 L646.51 649.53 L646.94 649.52 L647.36 649.52 L647.79 649.51 L648.21 649.51 L648.64 649.50 L649.06 649.50 L649.49 649.49 L649.91 649.48 L650.34 649.48 L650.76 649.47 L651.19 649.47 L651.61 649.46 L652.04 649.46 L652.46 649.45 L652.89 649.45 L653.31 649.44 L653.74 649.44 L654.16 649.43 L654.59 649.42 L655.01 649.42 L655.43 649.41 L655.86 649.41 L656.28 649.40 L656.71 649.40 L657.13 649.39 L657.56 649.39 L657.98 649.38 L658.41 649.38 L658.83 649.37 L659.26 649.36 L659.68 649.36 L660.11 649.35 L660.53 649.35 L660.96 649.34 L661.38 649.34 L661.81 649.33 L662.23 649.33 L662.66 649.32 L663.08 649.32 L663.51 649.31 L663.93 649.31 L664.36 649.30 L664.78 649.30 L665.21 649.29 L665.63 649.29 L666.06 649.28 L666.48 649.28 L666.91 649.27 L667.33 649.27 L667.76 649.26 L668.18 649.26 L668.61 649.25 L669.03 649.25 L669.46 649.24 L669.88 649.24 L670.31 649.23 L670.73 649.23 L671.16 649.23 L671.58 649.22 L672.01 649.22 L672.43 649.21 L672.86 649.21 L673.28 649.20 L673.71 649.20 L674.13 649.19 L674.56 649.19 L674.98 649.18 L675.41 649.18 L675.83 649.17 L676.26 649.17 L676.68 649.17 L677.11 649.16 L677.53 649.16 L677.96 649.15 L678.38 649.15 L678.81 649.14 L679.23 649.14 L679.66 649.13 L680.08 649.13 L680.51 649.12 L680.93 649.12 L681.36 649.11 L681.78 649.11 L682.21 649.11 L682.63 649.10 L683.06 649.10 L683.48 649.09 L683.91 649.09 L684.33 649.08 L684.76 649.08 L685.18 649.07 L685.61 649.07 L686.03 649.06 L686.46 649.06 L686.88 649.05 L687.31 649.05 L687.73 649.04 L688.16 649.04 L688.58 649.03 L689.01 649.03 L689.43 649.02 L689.86 649.02 L690.28 649.01 L690.71 649.01 L691.13 649.00 L691.56 649.00 L691.98 648.99 L692.41 648.99 L692.83 648.98 L693.26 648.98 L693.68 648.97 L694.11 648.96 L694.53 648.96 L694.96 648.95 L695.38 648.95 L695.81 648.94 L696.23 648.94 L696.66 648.93 L697.08 648.93 L697.51 648.92 L697.93 648.91 L698.35 648.91 L698.78 648.90 L699.20 648.90 L699.63 648.89 L700.05 648.89 L700.48 648.88 L700.90 648.87 L701.33 648.87 L701.75 648.86 L702.18 648.86 L702.60 648.85 L703.03 648.84 L703.45 648.84 L703.88 648.83 L704.30 648.83 L704.73 648.82 L705.15 648.82 L705.58 648.81 L706.00 648.80 L706.43 648.80 L706.85 648.79 L707.28 648.78 L707.70 648.78 L708.13 648.77 L708.55 648.77 L708.98 648.76 L709.40 648.75 L709.83 648.75 L710.25 648.74 L710.68 648.74 L711.10 648.73 L711.53 648.72 L711.95 648.72 L712.38 648.71 L712.80 648.70 L713.23 648.70 L713.65 648.69 L714.08 648.69 L714.50 648.68 L714.93 648.67 L715.35 648.67 L715.78 648.66 L716.20 648.65 L716.63 648.65 L717.05 648.64 L717.48 648.64 L717.90 648.63 L718.33 648.62 L718.75 648.62 L719.18 648.61 L719.60 648.60 L720.03 648.60 L720.45 648.59 L720.88 648.58 L721.30 648.58 L721.73 648.57 L722.15 648.57 L722.58 648.56 L723.00 648.55 L723.43 648.55 L723.85 648.54 L724.28 648.53 L724.70 648.53 L725.13 648.52 L725.55 648.51 L725.98 648.51 L726.40 648.50 L726.83 648.50 L727.25 648.49 L727.68 648.48 L728.10 648.48 L728.53 648.47 L728.95 648.46 L729.38 648.46 L729.80 648.45 L730.23 648.45 L730.65 648.44 L731.08 648.43 L731.50 648.43 L731.93 648.42 L732.35 648.41 L732.78 648.41 L733.20 648.40 L733.63 648.39 L734.05 648.39 L734.48 648.38 L734.90 648.37 L735.33 648.37 L735.75 648.36 L736.18 648.35 L736.60 648.35 L737.03 648.34 L737.45 648.33 L737.88 648.33 L738.30 648.32 L738.73 648.32 L739.15 648.31 L739.58 648.30 L740.00 648.30" fill="none" stroke="#D95319" stroke-width="4.0" stroke-dasharray="16 16.6" stroke-linejoin="round"/>
</g>
<rect x="103.00" y="455.00" width="637.00" height="291.40" fill="none" stroke="#262626" stroke-width="2"/>
<text class="tk" x="40.64" y="755.70">-0.5</text>
<text class="tk" x="75.66" y="658.57">0</text>
<text class="tk" x="50.26" y="561.43">0.5</text>
<path class="tk1" d="M515 0L515 1237L197 1010L197 1180L530 1409L696 1409L696 0Z" transform="translate(75.26,464.30) scale(0.01294,-0.01294)"/>
<text class="tk" x="93.98" y="781.90">0</text>
<text class="tk" x="306.49" y="781.90">5</text>
<path class="tk1" d="M515 0L515 1237L197 1010L197 1180L530 1409L696 1409L696 0Z" transform="translate(510.35,781.90) scale(0.01294,-0.01294)"/><text class="tk" x="525.09" y="781.90">0</text>
<path class="tk1" d="M515 0L515 1237L197 1010L197 1180L530 1409L696 1409L696 0Z" transform="translate(723.16,781.90) scale(0.01294,-0.01294)"/><text class="tk" x="737.90" y="781.90">5</text>
<path d="M804.00 683.96h3.00M972.40 683.96h-3.00M804.00 579.89h3.00M972.40 579.89h-3.00M804.00 475.81h3.00M972.40 475.81h-3.00M804.00 746.40v-3.00M804.00 455.00v3.00M860.13 746.40v-3.00M860.13 455.00v3.00M916.27 746.40v-3.00M916.27 455.00v3.00M972.40 746.40v-3.00M972.40 455.00v3.00" stroke="#262626" stroke-width="2" fill="none"/>
<g clip-path="url(#clipd)">
<path d="M804.00 676.67 L804.28 676.58 L804.56 676.48 L804.84 676.39 L805.12 676.30 L805.41 676.20 L805.69 676.11 L805.97 676.01 L806.25 675.92 L806.53 675.82 L806.81 675.73 L807.09 675.63 L807.37 675.53 L807.65 675.44 L807.94 675.34 L808.22 675.24 L808.50 675.14 L808.78 675.04 L809.06 674.94 L809.34 674.84 L809.62 674.73 L809.90 674.63 L810.18 674.53 L810.47 674.42 L810.75 674.31 L811.03 674.21 L811.31 674.10 L811.59 673.99 L811.87 673.88 L812.15 673.76 L812.43 673.65 L812.72 673.53 L813.00 673.42 L813.28 673.30 L813.56 673.18 L813.84 673.06 L814.12 672.93 L814.40 672.81 L814.68 672.68 L814.96 672.55 L815.25 672.42 L815.53 672.29 L815.81 672.16 L816.09 672.02 L816.37 671.89 L816.65 671.75 L816.93 671.60 L817.21 671.46 L817.49 671.31 L817.78 671.16 L818.06 671.01 L818.34 670.86 L818.62 670.70 L818.90 670.55 L819.18 670.39 L819.46 670.22 L819.74 670.06 L820.02 669.89 L820.31 669.72 L820.59 669.55 L820.87 669.37 L821.15 669.19 L821.43 669.00 L821.71 668.81 L821.99 668.60 L822.27 668.40 L822.55 668.18 L822.84 667.96 L823.12 667.73 L823.40 667.50 L823.68 667.26 L823.96 667.01 L824.24 666.76 L824.52 666.50 L824.80 666.24 L825.09 665.96 L825.37 665.69 L825.65 665.40 L825.93 665.11 L826.21 664.82 L826.49 664.52 L826.77 664.21 L827.05 663.90 L827.33 663.58 L827.62 663.25 L827.90 662.92 L828.18 662.58 L828.46 662.24 L828.74 661.89 L829.02 661.54 L829.30 661.18 L829.58 660.82 L829.86 660.45 L830.15 660.07 L830.43 659.69 L830.71 659.31 L830.99 658.92 L831.27 658.51 L831.55 658.09 L831.83 657.66 L832.11 657.21 L832.39 656.75 L832.68 656.27 L832.96 655.77 L833.24 655.26 L833.52 654.74 L833.80 654.21 L834.08 653.66 L834.36 653.10 L834.64 652.52 L834.92 651.94 L835.21 651.34 L835.49 650.73 L835.77 650.11 L836.05 649.48 L836.33 648.83 L836.61 648.18 L836.89 647.52 L837.17 646.84 L837.46 646.16 L837.74 645.47 L838.02 644.77 L838.30 644.06 L838.58 643.34 L838.86 642.61 L839.14 641.87 L839.42 641.13 L839.70 640.37 L839.99 639.60 L840.27 638.80 L840.55 637.99 L840.83 637.15 L841.11 636.30 L841.39 635.43 L841.67 634.55 L841.95 633.64 L842.23 632.72 L842.52 631.78 L842.80 630.82 L843.08 629.85 L843.36 628.86 L843.64 627.85 L843.92 626.82 L844.20 625.78 L844.48 624.72 L844.76 623.65 L845.05 622.56 L845.33 621.45 L845.61 620.33 L845.89 619.19 L846.17 618.03 L846.45 616.86 L846.73 615.68 L847.01 614.47 L847.29 613.26 L847.58 612.03 L847.86 610.78 L848.14 609.50 L848.42 608.19 L848.70 606.84 L848.98 605.46 L849.26 604.05 L849.54 602.60 L849.83 601.12 L850.11 599.61 L850.39 598.07 L850.67 596.51 L850.95 594.91 L851.23 593.29 L851.51 591.64 L851.79 589.97 L852.07 588.27 L852.36 586.55 L852.64 584.80 L852.92 583.04 L853.20 581.25 L853.48 579.45 L853.76 577.62 L854.04 575.78 L854.32 573.91 L854.60 572.03 L854.89 570.10 L855.17 568.11 L855.45 566.06 L855.73 563.95 L856.01 561.81 L856.29 559.62 L856.57 557.39 L856.85 555.12 L857.13 552.83 L857.42 550.52 L857.70 548.19 L857.98 545.84 L858.26 543.48 L858.54 541.12 L858.82 538.75 L859.10 536.40 L859.38 534.04 L859.66 531.71 L859.95 529.38 L860.23 527.08 L860.51 524.67 L860.79 522.14 L861.07 519.52 L861.35 516.84 L861.63 514.12 L861.91 511.40 L862.19 508.70 L862.48 506.05 L862.76 503.48 L863.04 501.01 L863.32 498.68 L863.60 496.51 L863.88 494.52 L864.16 492.75 L864.44 491.22 L864.73 489.95 L865.01 488.73 L865.29 487.53 L865.57 486.34 L865.85 485.18 L866.13 484.06 L866.41 482.97 L866.69 481.93 L866.97 480.95 L867.26 480.03 L867.54 479.18 L867.82 478.41 L868.10 477.72 L868.38 477.13 L868.66 476.64 L868.94 476.25 L869.22 475.98 L869.50 475.84 L869.79 475.82 L870.07 475.88 L870.35 476.01 L870.63 476.19 L870.91 476.44 L871.19 476.73 L871.47 477.07 L871.75 477.46 L872.03 477.88 L872.32 478.34 L872.60 478.83 L872.88 479.35 L873.16 479.89 L873.44 480.45 L873.72 481.02 L874.00 481.59 L874.28 482.18 L874.56 482.76 L874.85 483.35 L875.13 484.00 L875.41 484.73 L875.69 485.52 L875.97 486.38 L876.25 487.30 L876.53 488.28 L876.81 489.31 L877.10 490.39 L877.38 491.51 L877.66 492.67 L877.94 493.88 L878.22 495.11 L878.50 496.37 L878.78 497.66 L879.06 498.97 L879.34 500.29 L879.63 501.62 L879.91 502.96 L880.19 504.31 L880.47 505.66 L880.75 507.00 L881.03 508.33 L881.31 509.65 L881.59 510.95 L881.87 512.23 L882.16 513.49 L882.44 514.72 L882.72 515.92 L883.00 517.10 L883.28 518.27 L883.56 519.44 L883.84 520.59 L884.12 521.74 L884.40 522.89 L884.69 524.03 L884.97 525.17 L885.25 526.32 L885.53 527.46 L885.81 528.60 L886.09 529.75 L886.37 530.91 L886.65 532.07 L886.93 533.24 L887.22 534.41 L887.50 535.60 L887.78 536.81 L888.06 538.02 L888.34 539.25 L888.62 540.50 L888.90 541.76 L889.18 543.05 L889.47 544.35 L889.75 545.68 L890.03 547.03 L890.31 548.40 L890.59 549.81 L890.87 551.24 L891.15 552.69 L891.43 554.18 L891.71 555.71 L892.00 557.33 L892.28 559.04 L892.56 560.82 L892.84 562.66 L893.12 564.55 L893.40 566.47 L893.68 568.41 L893.96 570.36 L894.24 572.31 L894.53 574.23 L894.81 576.13 L895.09 577.99 L895.37 579.78 L895.65 581.55 L895.93 583.33 L896.21 585.12 L896.49 586.89 L896.77 588.66 L897.06 590.40 L897.34 592.11 L897.62 593.78 L897.90 595.41 L898.18 596.97 L898.46 598.48 L898.74 599.92 L899.02 601.34 L899.30 602.73 L899.59 604.10 L899.87 605.44 L900.15 606.76 L900.43 608.05 L900.71 609.32 L900.99 610.57 L901.27 611.80 L901.55 613.00 L901.84 614.18 L902.12 615.35 L902.40 616.49 L902.68 617.62 L902.96 618.72 L903.24 619.81 L903.52 620.88 L903.80 621.95 L904.08 623.00 L904.37 624.05 L904.65 625.07 L904.93 626.08 L905.21 627.07 L905.49 628.03 L905.77 628.96 L906.05 629.86 L906.33 630.72 L906.61 631.54 L906.90 632.32 L907.18 633.05 L907.46 633.75 L907.74 634.41 L908.02 635.06 L908.30 635.67 L908.58 636.27 L908.86 636.85 L909.14 637.41 L909.43 637.96 L909.71 638.50 L909.99 639.02 L910.27 639.54 L910.55 640.06 L910.83 640.57 L911.11 641.08 L911.39 641.57 L911.67 642.07 L911.96 642.55 L912.24 643.02 L912.52 643.48 L912.80 643.94 L913.08 644.38 L913.36 644.81 L913.64 645.22 L913.92 645.63 L914.21 646.02 L914.49 646.40 L914.77 646.77 L915.05 647.14 L915.33 647.49 L915.61 647.85 L915.89 648.19 L916.17 648.53 L916.45 648.87 L916.74 649.20 L917.02 649.53 L917.30 649.85 L917.58 650.17 L917.86 650.48 L918.14 650.79 L918.42 651.10 L918.70 651.40 L918.98 651.70 L919.27 652.00 L919.55 652.29 L919.83 652.59 L920.11 652.88 L920.39 653.17 L920.67 653.46 L920.95 653.75 L921.23 654.03 L921.51 654.32 L921.80 654.61 L922.08 654.89 L922.36 655.18 L922.64 655.47 L922.92 655.76 L923.20 656.05 L923.48 656.34 L923.76 656.64 L924.04 656.93 L924.33 657.23 L924.61 657.52 L924.89 657.82 L925.17 658.11 L925.45 658.41 L925.73 658.70 L926.01 658.99 L926.29 659.28 L926.57 659.57 L926.86 659.85 L927.14 660.14 L927.42 660.43 L927.70 660.71 L927.98 660.99 L928.26 661.27 L928.54 661.55 L928.82 661.83 L929.11 662.10 L929.39 662.38 L929.67 662.65 L929.95 662.92 L930.23 663.19 L930.51 663.46 L930.79 663.72 L931.07 663.98 L931.35 664.25 L931.64 664.51 L931.92 664.76 L932.20 665.02 L932.48 665.28 L932.76 665.53 L933.04 665.78 L933.32 666.04 L933.60 666.29 L933.88 666.54 L934.17 666.79 L934.45 667.04 L934.73 667.29 L935.01 667.53 L935.29 667.78 L935.57 668.03 L935.85 668.27 L936.13 668.52 L936.41 668.77 L936.70 669.01 L936.98 669.26 L937.26 669.51 L937.54 669.76 L937.82 670.00 L938.10 670.25 L938.38 670.50 L938.66 670.75 L938.94 671.00 L939.23 671.25 L939.51 671.50 L939.79 671.75 L940.07 672.01 L940.35 672.26 L940.63 672.52 L940.91 672.77 L941.19 673.03 L941.48 673.29 L941.76 673.56 L942.04 673.82 L942.32 674.08 L942.60 674.35 L942.88 674.61 L943.16 674.86 L943.44 675.11 L943.72 675.37 L944.01 675.62 L944.29 675.87 L944.57 676.12 L944.85 676.38 L945.13 676.63 L945.41 676.88 L945.69 677.14 L945.97 677.39 L946.25 677.64 L946.54 677.89 L946.82 678.14 L947.10 678.40 L947.38 678.65 L947.66 678.89 L947.94 679.14 L948.22 679.39 L948.50 679.63 L948.78 679.88 L949.07 680.12 L949.35 680.36 L949.63 680.60 L949.91 680.84 L950.19 681.08 L950.47 681.31 L950.75 681.54 L951.03 681.77 L951.31 682.00 L951.60 682.23 L951.88 682.45 L952.16 682.67 L952.44 682.89 L952.72 683.10 L953.00 683.32 L953.28 683.53 L953.56 683.73 L953.85 683.94 L954.13 684.14 L954.41 684.34 L954.69 684.54 L954.97 684.74 L955.25 684.94 L955.53 685.15 L955.81 685.35 L956.09 685.54 L956.38 685.74 L956.66 685.94 L956.94 686.13 L957.22 686.32 L957.50 686.51 L957.78 686.69 L958.06 686.87 L958.34 687.05 L958.62 687.22 L958.91 687.39 L959.19 687.55 L959.47 687.71 L959.75 687.86 L960.03 688.01 L960.31 688.15 L960.59 688.28 L960.87 688.41 L961.15 688.53 L961.44 688.65 L961.72 688.77 L962.00 688.89 L962.28 689.01 L962.56 689.13 L962.84 689.25 L963.12 689.36 L963.40 689.47 L963.68 689.58 L963.97 689.67 L964.25 689.76 L964.53 689.83 L964.81 689.89 L965.09 689.94 L965.37 689.97 L965.65 689.99 L965.93 689.99 L966.22 689.96 L966.50 689.92 L966.78 689.85 L967.06 689.77 L967.34 689.66 L967.62 689.55 L967.90 689.42 L968.18 689.28 L968.46 689.13 L968.75 688.97 L969.03 688.80 L969.31 688.64 L969.59 688.46 L969.87 688.29 L970.15 688.12 L970.43 687.94 L970.71 687.73 L970.99 687.50 L971.28 687.24 L971.56 686.97 L971.84 686.67 L972.12 686.36 L972.40 686.03" fill="none" stroke="#0072BD" stroke-width="4.0" stroke-linejoin="round" stroke-linecap="round"/>
<path d="M804.00 683.96 L804.28 683.96 L804.56 683.96 L804.84 683.96 L805.12 683.96 L805.41 683.96 L805.69 683.96 L805.97 683.96 L806.25 683.96 L806.53 683.96 L806.81 683.96 L807.09 683.96 L807.37 683.96 L807.65 683.96 L807.94 683.96 L808.22 683.96 L808.50 683.96 L808.78 683.96 L809.06 683.96 L809.34 683.96 L809.62 683.96 L809.90 683.96 L810.18 683.96 L810.47 683.96 L810.75 683.96 L811.03 683.96 L811.31 683.96 L811.59 683.96 L811.87 683.96 L812.15 683.96 L812.43 683.96 L812.72 683.96 L813.00 683.96 L813.28 683.96 L813.56 683.96 L813.84 683.96 L814.12 683.96 L814.40 683.96 L814.68 683.96 L814.96 683.96 L815.25 683.96 L815.53 683.96 L815.81 683.96 L816.09 683.96 L816.37 683.95 L816.65 683.95 L816.93 683.95 L817.21 683.95 L817.49 683.95 L817.78 683.94 L818.06 683.94 L818.34 683.94 L818.62 683.93 L818.90 683.93 L819.18 683.93 L819.46 683.92 L819.74 683.92 L820.02 683.91 L820.31 683.91 L820.59 683.90 L820.87 683.89 L821.15 683.89 L821.43 683.88 L821.71 683.87 L821.99 683.87 L822.27 683.86 L822.55 683.85 L822.84 683.84 L823.12 683.83 L823.40 683.82 L823.68 683.81 L823.96 683.80 L824.24 683.79 L824.52 683.78 L824.80 683.77 L825.09 683.76 L825.37 683.74 L825.65 683.73 L825.93 683.72 L826.21 683.71 L826.49 683.69 L826.77 683.68 L827.05 683.66 L827.33 683.65 L827.62 683.63 L827.90 683.62 L828.18 683.60 L828.46 683.58 L828.74 683.57 L829.02 683.55 L829.30 683.53 L829.58 683.51 L829.86 683.49 L830.15 683.48 L830.43 683.46 L830.71 683.44 L830.99 683.42 L831.27 683.39 L831.55 683.37 L831.83 683.35 L832.11 683.33 L832.39 683.30 L832.68 683.25 L832.96 683.20 L833.24 683.13 L833.52 683.05 L833.80 682.96 L834.08 682.86 L834.36 682.75 L834.64 682.63 L834.92 682.50 L835.21 682.36 L835.49 682.21 L835.77 682.06 L836.05 681.90 L836.33 681.73 L836.61 681.55 L836.89 681.37 L837.17 681.18 L837.46 680.99 L837.74 680.79 L838.02 680.58 L838.30 680.33 L838.58 680.05 L838.86 679.74 L839.14 679.40 L839.42 679.03 L839.70 678.64 L839.99 678.22 L840.27 677.77 L840.55 677.30 L840.83 676.80 L841.11 676.27 L841.39 675.72 L841.67 675.15 L841.95 674.55 L842.23 673.92 L842.52 673.28 L842.80 672.61 L843.08 671.92 L843.36 671.21 L843.64 670.47 L843.92 669.72 L844.20 668.95 L844.48 668.15 L844.76 667.28 L845.05 666.33 L845.33 665.28 L845.61 664.14 L845.89 662.92 L846.17 661.62 L846.45 660.24 L846.73 658.78 L847.01 657.24 L847.29 655.63 L847.58 653.95 L847.86 652.20 L848.14 650.38 L848.42 648.50 L848.70 646.56 L848.98 644.55 L849.26 642.49 L849.54 640.37 L849.83 638.20 L850.11 635.98 L850.39 633.71 L850.67 631.31 L850.95 628.56 L851.23 625.50 L851.51 622.19 L851.79 618.67 L852.07 615.01 L852.36 611.27 L852.64 607.49 L852.92 603.75 L853.20 600.08 L853.48 596.55 L853.76 592.99 L854.04 589.35 L854.32 585.67 L854.60 581.96 L854.89 578.25 L855.17 574.57 L855.45 570.95 L855.73 567.40 L856.01 563.95 L856.29 560.64 L856.57 557.47 L856.85 554.39 L857.13 551.40 L857.42 548.49 L857.70 545.63 L857.98 542.83 L858.26 540.06 L858.54 537.32 L858.82 534.60 L859.10 531.88 L859.38 529.16 L859.66 526.36 L859.95 523.44 L860.23 520.45 L860.51 517.40 L860.79 514.34 L861.07 511.28 L861.35 508.27 L861.63 505.32 L861.91 502.48 L862.19 499.77 L862.48 497.22 L862.76 494.85 L863.04 492.71 L863.32 490.82 L863.60 489.21 L863.88 487.91 L864.16 486.73 L864.44 485.57 L864.73 484.44 L865.01 483.34 L865.29 482.28 L865.57 481.27 L865.85 480.32 L866.13 479.44 L866.41 478.64 L866.69 477.92 L866.97 477.29 L867.26 476.76 L867.54 476.34 L867.82 476.04 L868.10 475.86 L868.38 475.81 L868.66 475.84 L868.94 475.90 L869.22 475.99 L869.50 476.12 L869.79 476.28 L870.07 476.47 L870.35 476.69 L870.63 476.94 L870.91 477.22 L871.19 477.52 L871.47 477.85 L871.75 478.20 L872.03 478.57 L872.32 478.97 L872.60 479.38 L872.88 479.82 L873.16 480.27 L873.44 480.74 L873.72 481.23 L874.00 481.73 L874.28 482.25 L874.56 482.77 L874.85 483.31 L875.13 483.86 L875.41 484.42 L875.69 484.98 L875.97 485.55 L876.25 486.13 L876.53 486.71 L876.81 487.29 L877.10 487.88 L877.38 488.48 L877.66 489.16 L877.94 489.91 L878.22 490.72 L878.50 491.60 L878.78 492.55 L879.06 493.55 L879.34 494.60 L879.63 495.71 L879.91 496.86 L880.19 498.05 L880.47 499.28 L880.75 500.55 L881.03 501.85 L881.31 503.17 L881.59 504.52 L881.87 505.88 L882.16 507.26 L882.44 508.65 L882.72 510.05 L883.00 511.46 L883.28 512.86 L883.56 514.26 L883.84 515.65 L884.12 517.03 L884.40 518.39 L884.69 519.74 L884.97 521.06 L885.25 522.35 L885.53 523.61 L885.81 524.84 L886.09 526.03 L886.37 527.19 L886.65 528.33 L886.93 529.48 L887.22 530.61 L887.50 531.75 L887.78 532.88 L888.06 534.00 L888.34 535.12 L888.62 536.24 L888.90 537.35 L889.18 538.46 L889.47 539.57 L889.75 540.67 L890.03 541.78 L890.31 542.88 L890.59 543.98 L890.87 545.08 L891.15 546.18 L891.43 547.28 L891.71 548.38 L892.00 549.48 L892.28 550.58 L892.56 551.68 L892.84 552.78 L893.12 553.89 L893.40 555.00 L893.68 556.10 L893.96 557.22 L894.24 558.33 L894.53 559.45 L894.81 560.57 L895.09 561.69 L895.37 562.82 L895.65 563.96 L895.93 565.11 L896.21 566.27 L896.49 567.43 L896.77 568.60 L897.06 569.77 L897.34 570.95 L897.62 572.13 L897.90 573.31 L898.18 574.49 L898.46 575.68 L898.74 576.86 L899.02 578.04 L899.30 579.23 L899.59 580.40 L899.87 581.58 L900.15 582.75 L900.43 583.91 L900.71 585.07 L900.99 586.22 L901.27 587.37 L901.55 588.50 L901.84 589.63 L902.12 590.74 L902.40 591.85 L902.68 592.94 L902.96 594.01 L903.24 595.08 L903.52 596.13 L903.80 597.16 L904.08 598.18 L904.37 599.21 L904.65 600.23 L904.93 601.26 L905.21 602.29 L905.49 603.32 L905.77 604.34 L906.05 605.37 L906.33 606.39 L906.61 607.40 L906.90 608.42 L907.18 609.42 L907.46 610.42 L907.74 611.41 L908.02 612.39 L908.30 613.36 L908.58 614.32 L908.86 615.27 L909.14 616.20 L909.43 617.12 L909.71 618.03 L909.99 618.91 L910.27 619.79 L910.55 620.64 L910.83 621.47 L911.11 622.29 L911.39 623.08 L911.67 623.85 L911.96 624.60 L912.24 625.32 L912.52 626.02 L912.80 626.69 L913.08 627.34 L913.36 627.98 L913.64 628.62 L913.92 629.24 L914.21 629.85 L914.49 630.46 L914.77 631.05 L915.05 631.64 L915.33 632.22 L915.61 632.80 L915.89 633.36 L916.17 633.92 L916.45 634.47 L916.74 635.01 L917.02 635.55 L917.30 636.07 L917.58 636.59 L917.86 637.11 L918.14 637.61 L918.42 638.11 L918.70 638.60 L918.98 639.09 L919.27 639.56 L919.55 640.04 L919.83 640.50 L920.11 640.96 L920.39 641.41 L920.67 641.86 L920.95 642.30 L921.23 642.73 L921.51 643.16 L921.80 643.58 L922.08 643.99 L922.36 644.40 L922.64 644.81 L922.92 645.21 L923.20 645.60 L923.48 645.99 L923.76 646.37 L924.04 646.75 L924.33 647.12 L924.61 647.49 L924.89 647.85 L925.17 648.21 L925.45 648.56 L925.73 648.91 L926.01 649.25 L926.29 649.59 L926.57 649.92 L926.86 650.24 L927.14 650.56 L927.42 650.88 L927.70 651.19 L927.98 651.50 L928.26 651.80 L928.54 652.10 L928.82 652.39 L929.11 652.69 L929.39 652.97 L929.67 653.26 L929.95 653.54 L930.23 653.82 L930.51 654.10 L930.79 654.37 L931.07 654.64 L931.35 654.91 L931.64 655.18 L931.92 655.44 L932.20 655.71 L932.48 655.97 L932.76 656.23 L933.04 656.49 L933.32 656.75 L933.60 657.01 L933.88 657.26 L934.17 657.52 L934.45 657.78 L934.73 658.03 L935.01 658.29 L935.29 658.54 L935.57 658.80 L935.85 659.06 L936.13 659.31 L936.41 659.57 L936.70 659.83 L936.98 660.09 L937.26 660.35 L937.54 660.62 L937.82 660.88 L938.10 661.15 L938.38 661.42 L938.66 661.69 L938.94 661.96 L939.23 662.24 L939.51 662.52 L939.79 662.80 L940.07 663.08 L940.35 663.36 L940.63 663.65 L940.91 663.93 L941.19 664.21 L941.48 664.50 L941.76 664.78 L942.04 665.07 L942.32 665.36 L942.60 665.64 L942.88 665.93 L943.16 666.22 L943.44 666.50 L943.72 666.79 L944.01 667.08 L944.29 667.36 L944.57 667.65 L944.85 667.94 L945.13 668.22 L945.41 668.51 L945.69 668.80 L945.97 669.08 L946.25 669.37 L946.54 669.65 L946.82 669.94 L947.10 670.22 L947.38 670.51 L947.66 670.79 L947.94 671.07 L948.22 671.35 L948.50 671.63 L948.78 671.91 L949.07 672.19 L949.35 672.47 L949.63 672.75 L949.91 673.03 L950.19 673.30 L950.47 673.58 L950.75 673.85 L951.03 674.12 L951.31 674.39 L951.60 674.66 L951.88 674.93 L952.16 675.19 L952.44 675.46 L952.72 675.72 L953.00 675.99 L953.28 676.25 L953.56 676.50 L953.85 676.76 L954.13 677.02 L954.41 677.27 L954.69 677.52 L954.97 677.77 L955.25 678.02 L955.53 678.27 L955.81 678.52 L956.09 678.77 L956.38 679.02 L956.66 679.26 L956.94 679.51 L957.22 679.75 L957.50 679.99 L957.78 680.24 L958.06 680.48 L958.34 680.72 L958.62 680.96 L958.91 681.20 L959.19 681.44 L959.47 681.68 L959.75 681.91 L960.03 682.15 L960.31 682.39 L960.59 682.62 L960.87 682.86 L961.15 683.09 L961.44 683.32 L961.72 683.55 L962.00 683.78 L962.28 684.02 L962.56 684.25 L962.84 684.47 L963.12 684.70 L963.40 684.93 L963.68 685.16 L963.97 685.38 L964.25 685.61 L964.53 685.83 L964.81 686.06 L965.09 686.28 L965.37 686.50 L965.65 686.73 L965.93 686.95 L966.22 687.17 L966.50 687.39 L966.78 687.61 L967.06 687.83 L967.34 688.05 L967.62 688.26 L967.90 688.48 L968.18 688.70 L968.46 688.91 L968.75 689.13 L969.03 689.34 L969.31 689.56 L969.59 689.77 L969.87 689.98 L970.15 690.19 L970.43 690.40 L970.71 690.62 L970.99 690.83 L971.28 691.04 L971.56 691.25 L971.84 691.47 L972.12 691.69 L972.40 691.90" fill="none" stroke="#D95319" stroke-width="4.0" stroke-dasharray="16 16.6" stroke-linejoin="round"/>
</g>
<rect x="804.00" y="455.00" width="168.40" height="291.40" fill="none" stroke="#262626" stroke-width="2"/>
<text class="tk" x="776.66" y="693.26">0</text>
<text class="tk" x="751.26" y="589.19">0.5</text>
<path class="tk1" d="M515 0L515 1237L197 1010L197 1180L530 1409L696 1409L696 0Z" transform="translate(776.26,485.11) scale(0.01294,-0.01294)"/>
<path class="tk1" d="M515 0L515 1237L197 1010L197 1180L530 1409L696 1409L696 0Z" transform="translate(782.88,781.90) scale(0.01294,-0.01294)"/><text class="tk" x="797.62" y="781.90">.5</text>
<text class="tk" x="851.06" y="781.90">2</text>
<text class="tk" x="894.67" y="781.90">2.5</text>
<text class="tk" x="964.18" y="781.90">3</text>
<text x="225.71" y="26.60" font-family="Liberation Serif" font-size="38" fill="#000" textLength="378.85" lengthAdjust="spacingAndGlyphs">Friedlander’s Equation</text>
<text x="240.52" y="431.40" font-family="Liberation Serif" font-size="38" fill="#000" textLength="362.28" lengthAdjust="spacingAndGlyphs">Numerical Simulation</text>
<text transform="translate(31.40,270.23) rotate(-90)" font-family="Liberation Serif" font-size="33" fill="#000" textLength="148.84" lengthAdjust="spacingAndGlyphs">Norm. Prs.</text>
<text transform="translate(20.90,675.03) rotate(-90)" font-family="Liberation Serif" font-size="33" fill="#000" textLength="148.02" lengthAdjust="spacingAndGlyphs">Norm. Prs.</text>
<text x="306.99" y="816.80" font-family="Liberation Serif" font-size="31.5" fill="#000" textLength="82.31" lengthAdjust="spacingAndGlyphs">Norm.</text>
<text x="402.86" y="816.80" font-family="Liberation Serif" font-size="31.5" fill="#000" textLength="58.07" lengthAdjust="spacingAndGlyphs">time</text>
<text x="471.66" y="816.80" font-family="Liberation Serif" font-size="35" fill="#000" textLength="9.58" lengthAdjust="spacingAndGlyphs">(</text>
<text x="480.75" y="816.80" font-family="Liberation Serif" font-size="35" fill="#000" textLength="10.95" lengthAdjust="spacingAndGlyphs"><tspan font-style="italic">t</tspan></text>
<text x="508.15" y="816.80" font-family="Liberation Serif" font-size="33" fill="#000" textLength="13.58" lengthAdjust="spacingAndGlyphs"><tspan font-style="italic">τ</tspan></text>
<text x="525.76" y="816.80" font-family="Liberation Serif" font-size="35" fill="#000" textLength="8.68" lengthAdjust="spacingAndGlyphs">)</text>
<text x="773.39" y="816.00" font-family="Liberation Serif" font-size="31.5" fill="#000" textLength="82.31" lengthAdjust="spacingAndGlyphs">Norm.</text>
<text x="869.26" y="816.00" font-family="Liberation Serif" font-size="31.5" fill="#000" textLength="58.07" lengthAdjust="spacingAndGlyphs">time</text>
<text x="938.06" y="816.00" font-family="Liberation Serif" font-size="35" fill="#000" textLength="9.58" lengthAdjust="spacingAndGlyphs">(</text>
<text x="947.15" y="816.00" font-family="Liberation Serif" font-size="35" fill="#000" textLength="10.95" lengthAdjust="spacingAndGlyphs"><tspan font-style="italic">t</tspan></text>
<text x="974.55" y="816.00" font-family="Liberation Serif" font-size="33" fill="#000" textLength="13.58" lengthAdjust="spacingAndGlyphs"><tspan font-style="italic">τ</tspan></text>
<text x="992.16" y="816.00" font-family="Liberation Serif" font-size="35" fill="#000" textLength="8.68" lengthAdjust="spacingAndGlyphs">)</text>
<text x="83.08" y="46.20" font-family="Liberation Serif" font-size="37" fill="#000" textLength="10.00" lengthAdjust="spacingAndGlyphs">(</text>
<text x="94.66" y="45.60" font-family="Liberation Serif" font-size="32" fill="#000" textLength="16.17" lengthAdjust="spacingAndGlyphs">a</text>
<text x="111.90" y="46.20" font-family="Liberation Serif" font-size="37" fill="#000" textLength="8.63" lengthAdjust="spacingAndGlyphs">)</text>
<text x="779.78" y="46.20" font-family="Liberation Serif" font-size="37" fill="#000" textLength="10.00" lengthAdjust="spacingAndGlyphs">(</text>
<text x="791.10" y="45.90" font-family="Liberation Serif" font-size="32" fill="#000" textLength="17.60" lengthAdjust="spacingAndGlyphs">b</text>
<text x="810.37" y="46.20" font-family="Liberation Serif" font-size="37" fill="#000" textLength="9.00" lengthAdjust="spacingAndGlyphs">)</text>
<text x="83.16" y="447.35" font-family="Liberation Serif" font-size="37" fill="#000" textLength="10.14" lengthAdjust="spacingAndGlyphs">(</text>
<text x="94.38" y="446.90" font-family="Liberation Serif" font-size="32" fill="#000" textLength="14.56" lengthAdjust="spacingAndGlyphs">c</text>
<text x="110.19" y="447.35" font-family="Liberation Serif" font-size="37" fill="#000" textLength="8.75" lengthAdjust="spacingAndGlyphs">)</text>
<text x="779.78" y="447.40" font-family="Liberation Serif" font-size="37" fill="#000" textLength="10.00" lengthAdjust="spacingAndGlyphs">(</text>
<text x="791.17" y="446.80" font-family="Liberation Serif" font-size="32" fill="#000" textLength="16.43" lengthAdjust="spacingAndGlyphs">d</text>
<text x="810.37" y="447.40" font-family="Liberation Serif" font-size="37" fill="#000" textLength="9.00" lengthAdjust="spacingAndGlyphs">)</text>
<text x="565.80" y="104.80" font-family="Liberation Sans" font-size="24" fill="#000" stroke="#000" stroke-width="0.4" textLength="59.09" lengthAdjust="spacingAndGlyphs">yasur</text>
<text x="565.20" y="134.80" font-family="Liberation Sans" font-size="24" fill="#000" stroke="#000" stroke-width="0.4" textLength="121.61" lengthAdjust="spacingAndGlyphs">Friedlander</text>
<text x="577.90" y="508.80" font-family="Liberation Sans" font-size="24" fill="#000" stroke="#000" stroke-width="0.4" textLength="58.89" lengthAdjust="spacingAndGlyphs">yasur</text>
<text x="576.88" y="538.80" font-family="Liberation Sans" font-size="24" fill="#000" stroke="#000" stroke-width="0.4" textLength="109.78" lengthAdjust="spacingAndGlyphs">simulation</text>
<line x1="472" y1="96.4" x2="558.4" y2="96.4" stroke="#0072BD" stroke-width="4"/>
<line x1="474" y1="126.1" x2="558" y2="126.1" stroke="#D95319" stroke-width="4" stroke-dasharray="16 16.6"/>
<line x1="484.4" y1="500.9" x2="570.3" y2="500.9" stroke="#0072BD" stroke-width="4"/>
<line x1="486.3" y1="530.6" x2="570" y2="530.6" stroke="#D95319" stroke-width="4" stroke-dasharray="16 16.6"/>
<line x1="495.5" y1="826" x2="505.7" y2="792.9" stroke="#000" stroke-width="1.6"/>
<line x1="961.9" y1="826" x2="972.1" y2="792.1" stroke="#000" stroke-width="1.6"/>

</svg>
</body></html>
